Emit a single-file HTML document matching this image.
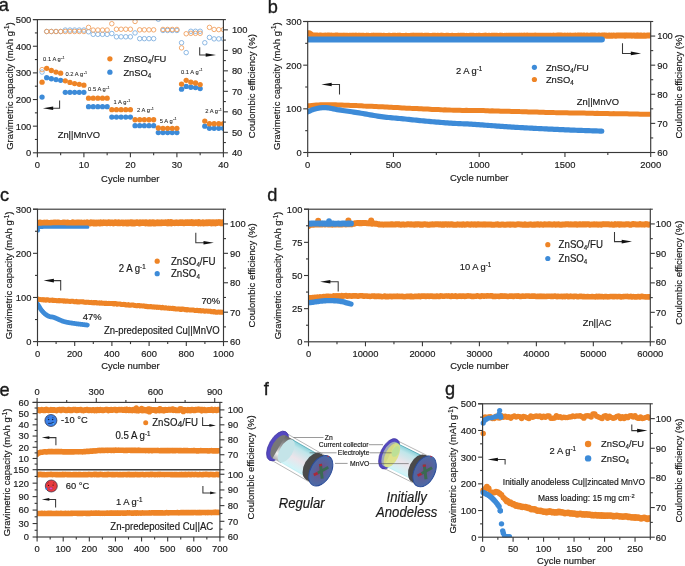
<!DOCTYPE html>
<html><head><meta charset="utf-8"><style>
html,body{margin:0;padding:0;background:#fff;overflow:hidden;}
svg{display:block;will-change:transform;}
text{font-family:"Liberation Sans", sans-serif;stroke:#1a1a1a;stroke-width:0.18px;}
</style></head><body>
<svg width="685" height="566" viewBox="0 0 685 566">
<rect width="685" height="566" fill="#fff"/>
<defs><clipPath id="clipA"><rect x="37.4" y="19.6" width="186.0" height="133.20000000000002"/></clipPath></defs>
<g clip-path="url(#clipA)">
<circle cx="42.05" cy="72.06" r="2.25" fill="none" stroke="#80B0E0" stroke-width="0.9"/>
<circle cx="46.7" cy="31.49" r="2.25" fill="none" stroke="#80B0E0" stroke-width="0.9"/>
<circle cx="51.35" cy="31.49" r="2.25" fill="none" stroke="#80B0E0" stroke-width="0.9"/>
<circle cx="56" cy="31.49" r="2.25" fill="none" stroke="#80B0E0" stroke-width="0.9"/>
<circle cx="60.65" cy="31.49" r="2.25" fill="none" stroke="#80B0E0" stroke-width="0.9"/>
<circle cx="65.3" cy="30.05" r="2.25" fill="none" stroke="#80B0E0" stroke-width="0.9"/>
<circle cx="69.95" cy="30.05" r="2.25" fill="none" stroke="#80B0E0" stroke-width="0.9"/>
<circle cx="74.6" cy="30.05" r="2.25" fill="none" stroke="#80B0E0" stroke-width="0.9"/>
<circle cx="79.25" cy="30.05" r="2.25" fill="none" stroke="#80B0E0" stroke-width="0.9"/>
<circle cx="83.9" cy="30.05" r="2.25" fill="none" stroke="#80B0E0" stroke-width="0.9"/>
<circle cx="88.55" cy="31.79" r="2.25" fill="none" stroke="#80B0E0" stroke-width="0.9"/>
<circle cx="93.2" cy="34.35" r="2.25" fill="none" stroke="#80B0E0" stroke-width="0.9"/>
<circle cx="97.85" cy="34.35" r="2.25" fill="none" stroke="#80B0E0" stroke-width="0.9"/>
<circle cx="102.5" cy="34.35" r="2.25" fill="none" stroke="#80B0E0" stroke-width="0.9"/>
<circle cx="107.15" cy="34.35" r="2.25" fill="none" stroke="#80B0E0" stroke-width="0.9"/>
<circle cx="111.8" cy="33.53" r="2.25" fill="none" stroke="#80B0E0" stroke-width="0.9"/>
<circle cx="116.45" cy="36.81" r="2.25" fill="none" stroke="#80B0E0" stroke-width="0.9"/>
<circle cx="121.1" cy="36.81" r="2.25" fill="none" stroke="#80B0E0" stroke-width="0.9"/>
<circle cx="125.75" cy="36.81" r="2.25" fill="none" stroke="#80B0E0" stroke-width="0.9"/>
<circle cx="130.4" cy="36.81" r="2.25" fill="none" stroke="#80B0E0" stroke-width="0.9"/>
<circle cx="135.05" cy="32.92" r="2.25" fill="none" stroke="#80B0E0" stroke-width="0.9"/>
<circle cx="139.7" cy="38.66" r="2.25" fill="none" stroke="#80B0E0" stroke-width="0.9"/>
<circle cx="144.35" cy="38.66" r="2.25" fill="none" stroke="#80B0E0" stroke-width="0.9"/>
<circle cx="149" cy="38.66" r="2.25" fill="none" stroke="#80B0E0" stroke-width="0.9"/>
<circle cx="153.65" cy="38.66" r="2.25" fill="none" stroke="#80B0E0" stroke-width="0.9"/>
<circle cx="158.3" cy="19.19" r="2.25" fill="none" stroke="#80B0E0" stroke-width="0.9"/>
<circle cx="162.95" cy="30.46" r="2.25" fill="none" stroke="#80B0E0" stroke-width="0.9"/>
<circle cx="167.6" cy="30.46" r="2.25" fill="none" stroke="#80B0E0" stroke-width="0.9"/>
<circle cx="172.25" cy="30.46" r="2.25" fill="none" stroke="#80B0E0" stroke-width="0.9"/>
<circle cx="176.9" cy="30.46" r="2.25" fill="none" stroke="#80B0E0" stroke-width="0.9"/>
<circle cx="181.55" cy="42.76" r="2.25" fill="none" stroke="#80B0E0" stroke-width="0.9"/>
<circle cx="186.2" cy="52.59" r="2.25" fill="none" stroke="#80B0E0" stroke-width="0.9"/>
<circle cx="190.85" cy="31.28" r="2.25" fill="none" stroke="#80B0E0" stroke-width="0.9"/>
<circle cx="195.5" cy="31.28" r="2.25" fill="none" stroke="#80B0E0" stroke-width="0.9"/>
<circle cx="200.15" cy="31.28" r="2.25" fill="none" stroke="#80B0E0" stroke-width="0.9"/>
<circle cx="204.8" cy="42.76" r="2.25" fill="none" stroke="#80B0E0" stroke-width="0.9"/>
<circle cx="209.45" cy="37.43" r="2.25" fill="none" stroke="#80B0E0" stroke-width="0.9"/>
<circle cx="214.1" cy="38.86" r="2.25" fill="none" stroke="#80B0E0" stroke-width="0.9"/>
<circle cx="218.75" cy="38.86" r="2.25" fill="none" stroke="#80B0E0" stroke-width="0.9"/>
<circle cx="223.4" cy="38.86" r="2.25" fill="none" stroke="#80B0E0" stroke-width="0.9"/>
<circle cx="42.05" cy="69.6" r="2.25" fill="none" stroke="#F0A060" stroke-width="0.9"/>
<circle cx="46.7" cy="31.49" r="2.25" fill="none" stroke="#F0A060" stroke-width="0.9"/>
<circle cx="51.35" cy="31.49" r="2.25" fill="none" stroke="#F0A060" stroke-width="0.9"/>
<circle cx="56" cy="31.49" r="2.25" fill="none" stroke="#F0A060" stroke-width="0.9"/>
<circle cx="60.65" cy="31.49" r="2.25" fill="none" stroke="#F0A060" stroke-width="0.9"/>
<circle cx="65.3" cy="31.49" r="2.25" fill="none" stroke="#F0A060" stroke-width="0.9"/>
<circle cx="69.95" cy="31.49" r="2.25" fill="none" stroke="#F0A060" stroke-width="0.9"/>
<circle cx="74.6" cy="31.49" r="2.25" fill="none" stroke="#F0A060" stroke-width="0.9"/>
<circle cx="79.25" cy="31.49" r="2.25" fill="none" stroke="#F0A060" stroke-width="0.9"/>
<circle cx="83.9" cy="31.49" r="2.25" fill="none" stroke="#F0A060" stroke-width="0.9"/>
<circle cx="88.55" cy="27.39" r="2.25" fill="none" stroke="#F0A060" stroke-width="0.9"/>
<circle cx="93.2" cy="30.05" r="2.25" fill="none" stroke="#F0A060" stroke-width="0.9"/>
<circle cx="97.85" cy="30.05" r="2.25" fill="none" stroke="#F0A060" stroke-width="0.9"/>
<circle cx="102.5" cy="30.05" r="2.25" fill="none" stroke="#F0A060" stroke-width="0.9"/>
<circle cx="107.15" cy="30.05" r="2.25" fill="none" stroke="#F0A060" stroke-width="0.9"/>
<circle cx="111.8" cy="23.7" r="2.25" fill="none" stroke="#F0A060" stroke-width="0.9"/>
<circle cx="116.45" cy="29.23" r="2.25" fill="none" stroke="#F0A060" stroke-width="0.9"/>
<circle cx="121.1" cy="29.23" r="2.25" fill="none" stroke="#F0A060" stroke-width="0.9"/>
<circle cx="125.75" cy="29.23" r="2.25" fill="none" stroke="#F0A060" stroke-width="0.9"/>
<circle cx="130.4" cy="29.23" r="2.25" fill="none" stroke="#F0A060" stroke-width="0.9"/>
<circle cx="135.05" cy="21.44" r="2.25" fill="none" stroke="#F0A060" stroke-width="0.9"/>
<circle cx="139.7" cy="29.85" r="2.25" fill="none" stroke="#F0A060" stroke-width="0.9"/>
<circle cx="144.35" cy="29.85" r="2.25" fill="none" stroke="#F0A060" stroke-width="0.9"/>
<circle cx="149" cy="29.85" r="2.25" fill="none" stroke="#F0A060" stroke-width="0.9"/>
<circle cx="153.65" cy="29.85" r="2.25" fill="none" stroke="#F0A060" stroke-width="0.9"/>
<circle cx="162.95" cy="29.44" r="2.25" fill="none" stroke="#F0A060" stroke-width="0.9"/>
<circle cx="167.6" cy="29.44" r="2.25" fill="none" stroke="#F0A060" stroke-width="0.9"/>
<circle cx="172.25" cy="29.44" r="2.25" fill="none" stroke="#F0A060" stroke-width="0.9"/>
<circle cx="176.9" cy="29.44" r="2.25" fill="none" stroke="#F0A060" stroke-width="0.9"/>
<circle cx="181.55" cy="47.88" r="2.25" fill="none" stroke="#F0A060" stroke-width="0.9"/>
<circle cx="186.2" cy="33.74" r="2.25" fill="none" stroke="#F0A060" stroke-width="0.9"/>
<circle cx="190.85" cy="33.33" r="2.25" fill="none" stroke="#F0A060" stroke-width="0.9"/>
<circle cx="195.5" cy="33.33" r="2.25" fill="none" stroke="#F0A060" stroke-width="0.9"/>
<circle cx="200.15" cy="33.33" r="2.25" fill="none" stroke="#F0A060" stroke-width="0.9"/>
<circle cx="209.45" cy="27.39" r="2.25" fill="none" stroke="#F0A060" stroke-width="0.9"/>
<circle cx="214.1" cy="29.44" r="2.25" fill="none" stroke="#F0A060" stroke-width="0.9"/>
<circle cx="218.75" cy="29.64" r="2.25" fill="none" stroke="#F0A060" stroke-width="0.9"/>
<circle cx="223.4" cy="29.64" r="2.25" fill="none" stroke="#F0A060" stroke-width="0.9"/>
<circle cx="42.05" cy="97.12" r="2.65" fill="#3D8BD8"/>
<circle cx="46.7" cy="77.68" r="2.65" fill="#3D8BD8"/>
<circle cx="51.35" cy="78.74" r="2.65" fill="#3D8BD8"/>
<circle cx="56" cy="79.54" r="2.65" fill="#3D8BD8"/>
<circle cx="60.65" cy="80.34" r="2.65" fill="#3D8BD8"/>
<circle cx="65.3" cy="92.33" r="2.65" fill="#3D8BD8"/>
<circle cx="69.95" cy="92.33" r="2.65" fill="#3D8BD8"/>
<circle cx="74.6" cy="92.33" r="2.65" fill="#3D8BD8"/>
<circle cx="79.25" cy="92.33" r="2.65" fill="#3D8BD8"/>
<circle cx="83.9" cy="92.33" r="2.65" fill="#3D8BD8"/>
<circle cx="88.55" cy="106.71" r="2.65" fill="#3D8BD8"/>
<circle cx="93.2" cy="106.71" r="2.65" fill="#3D8BD8"/>
<circle cx="97.85" cy="106.71" r="2.65" fill="#3D8BD8"/>
<circle cx="102.5" cy="106.71" r="2.65" fill="#3D8BD8"/>
<circle cx="107.15" cy="106.71" r="2.65" fill="#3D8BD8"/>
<circle cx="111.8" cy="117.1" r="2.65" fill="#3D8BD8"/>
<circle cx="116.45" cy="117.1" r="2.65" fill="#3D8BD8"/>
<circle cx="121.1" cy="117.1" r="2.65" fill="#3D8BD8"/>
<circle cx="125.75" cy="117.1" r="2.65" fill="#3D8BD8"/>
<circle cx="130.4" cy="117.1" r="2.65" fill="#3D8BD8"/>
<circle cx="135.05" cy="125.63" r="2.65" fill="#3D8BD8"/>
<circle cx="139.7" cy="125.63" r="2.65" fill="#3D8BD8"/>
<circle cx="144.35" cy="125.63" r="2.65" fill="#3D8BD8"/>
<circle cx="149" cy="125.63" r="2.65" fill="#3D8BD8"/>
<circle cx="153.65" cy="125.63" r="2.65" fill="#3D8BD8"/>
<circle cx="158.3" cy="132.55" r="2.65" fill="#3D8BD8"/>
<circle cx="162.95" cy="132.55" r="2.65" fill="#3D8BD8"/>
<circle cx="167.6" cy="132.55" r="2.65" fill="#3D8BD8"/>
<circle cx="172.25" cy="132.55" r="2.65" fill="#3D8BD8"/>
<circle cx="176.9" cy="132.55" r="2.65" fill="#3D8BD8"/>
<circle cx="181.55" cy="89.13" r="2.65" fill="#3D8BD8"/>
<circle cx="186.2" cy="86.47" r="2.65" fill="#3D8BD8"/>
<circle cx="190.85" cy="87.27" r="2.65" fill="#3D8BD8"/>
<circle cx="195.5" cy="87.53" r="2.65" fill="#3D8BD8"/>
<circle cx="200.15" cy="88.6" r="2.65" fill="#3D8BD8"/>
<circle cx="204.8" cy="126.16" r="2.65" fill="#3D8BD8"/>
<circle cx="209.45" cy="128.29" r="2.65" fill="#3D8BD8"/>
<circle cx="214.1" cy="128.29" r="2.65" fill="#3D8BD8"/>
<circle cx="218.75" cy="128.29" r="2.65" fill="#3D8BD8"/>
<circle cx="223.4" cy="128.29" r="2.65" fill="#3D8BD8"/>
<circle cx="42.05" cy="82.2" r="2.65" fill="#EE8426"/>
<circle cx="46.7" cy="68.35" r="2.65" fill="#EE8426"/>
<circle cx="51.35" cy="70.48" r="2.65" fill="#EE8426"/>
<circle cx="56" cy="72.08" r="2.65" fill="#EE8426"/>
<circle cx="60.65" cy="73.15" r="2.65" fill="#EE8426"/>
<circle cx="65.3" cy="80.87" r="2.65" fill="#EE8426"/>
<circle cx="69.95" cy="82.47" r="2.65" fill="#EE8426"/>
<circle cx="74.6" cy="83.54" r="2.65" fill="#EE8426"/>
<circle cx="79.25" cy="84.34" r="2.65" fill="#EE8426"/>
<circle cx="83.9" cy="85.13" r="2.65" fill="#EE8426"/>
<circle cx="88.55" cy="98.19" r="2.65" fill="#EE8426"/>
<circle cx="93.2" cy="98.19" r="2.65" fill="#EE8426"/>
<circle cx="97.85" cy="98.19" r="2.65" fill="#EE8426"/>
<circle cx="102.5" cy="98.19" r="2.65" fill="#EE8426"/>
<circle cx="107.15" cy="98.19" r="2.65" fill="#EE8426"/>
<circle cx="111.8" cy="109.64" r="2.65" fill="#EE8426"/>
<circle cx="116.45" cy="109.64" r="2.65" fill="#EE8426"/>
<circle cx="121.1" cy="109.64" r="2.65" fill="#EE8426"/>
<circle cx="125.75" cy="109.64" r="2.65" fill="#EE8426"/>
<circle cx="130.4" cy="109.64" r="2.65" fill="#EE8426"/>
<circle cx="135.05" cy="119.77" r="2.65" fill="#EE8426"/>
<circle cx="139.7" cy="119.77" r="2.65" fill="#EE8426"/>
<circle cx="144.35" cy="119.77" r="2.65" fill="#EE8426"/>
<circle cx="149" cy="119.77" r="2.65" fill="#EE8426"/>
<circle cx="153.65" cy="119.77" r="2.65" fill="#EE8426"/>
<circle cx="158.3" cy="128.02" r="2.65" fill="#EE8426"/>
<circle cx="162.95" cy="128.29" r="2.65" fill="#EE8426"/>
<circle cx="167.6" cy="128.29" r="2.65" fill="#EE8426"/>
<circle cx="172.25" cy="128.29" r="2.65" fill="#EE8426"/>
<circle cx="176.9" cy="128.29" r="2.65" fill="#EE8426"/>
<circle cx="181.55" cy="84.07" r="2.65" fill="#EE8426"/>
<circle cx="186.2" cy="80.34" r="2.65" fill="#EE8426"/>
<circle cx="190.85" cy="82.2" r="2.65" fill="#EE8426"/>
<circle cx="195.5" cy="83" r="2.65" fill="#EE8426"/>
<circle cx="200.15" cy="84.6" r="2.65" fill="#EE8426"/>
<circle cx="204.8" cy="121.1" r="2.65" fill="#EE8426"/>
<circle cx="209.45" cy="123.76" r="2.65" fill="#EE8426"/>
<circle cx="214.1" cy="123.76" r="2.65" fill="#EE8426"/>
<circle cx="218.75" cy="123.76" r="2.65" fill="#EE8426"/>
<circle cx="223.4" cy="123.76" r="2.65" fill="#EE8426"/>
</g>
<rect x="37.4" y="19.6" width="186" height="133.2" fill="none" stroke="#383838" stroke-width="1.15"/>
<line x1="32.9" y1="19.6" x2="37.4" y2="19.6" stroke="#383838" stroke-width="1.1"/>
<line x1="37.4" y1="152.8" x2="37.4" y2="157.3" stroke="#383838" stroke-width="1.1"/>
<text transform="translate(37.4,167.8) scale(0.95,1)" font-size="9.87" text-anchor="middle" fill="#1a1a1a" >0</text>
<line x1="83.9" y1="152.8" x2="83.9" y2="157.3" stroke="#383838" stroke-width="1.1"/>
<text transform="translate(83.9,167.8) scale(0.95,1)" font-size="9.87" text-anchor="middle" fill="#1a1a1a" >10</text>
<line x1="130.4" y1="152.8" x2="130.4" y2="157.3" stroke="#383838" stroke-width="1.1"/>
<text transform="translate(130.4,167.8) scale(0.95,1)" font-size="9.87" text-anchor="middle" fill="#1a1a1a" >20</text>
<line x1="176.9" y1="152.8" x2="176.9" y2="157.3" stroke="#383838" stroke-width="1.1"/>
<text transform="translate(176.9,167.8) scale(0.95,1)" font-size="9.87" text-anchor="middle" fill="#1a1a1a" >30</text>
<line x1="223.4" y1="152.8" x2="223.4" y2="157.3" stroke="#383838" stroke-width="1.1"/>
<text transform="translate(223.4,167.8) scale(0.95,1)" font-size="9.87" text-anchor="middle" fill="#1a1a1a" >40</text>
<line x1="60.65" y1="152.8" x2="60.65" y2="155.3" stroke="#383838" stroke-width="1.1"/>
<line x1="107.15" y1="152.8" x2="107.15" y2="155.3" stroke="#383838" stroke-width="1.1"/>
<line x1="153.65" y1="152.8" x2="153.65" y2="155.3" stroke="#383838" stroke-width="1.1"/>
<line x1="200.15" y1="152.8" x2="200.15" y2="155.3" stroke="#383838" stroke-width="1.1"/>
<line x1="32.9" y1="152.8" x2="37.4" y2="152.8" stroke="#383838" stroke-width="1.1"/>
<text transform="translate(31.3,156.15) scale(0.95,1)" font-size="9.87" text-anchor="end" fill="#1a1a1a" >0</text>
<line x1="32.9" y1="126.16" x2="37.4" y2="126.16" stroke="#383838" stroke-width="1.1"/>
<text transform="translate(31.3,129.51) scale(0.95,1)" font-size="9.87" text-anchor="end" fill="#1a1a1a" >100</text>
<line x1="32.9" y1="99.52" x2="37.4" y2="99.52" stroke="#383838" stroke-width="1.1"/>
<text transform="translate(31.3,102.87) scale(0.95,1)" font-size="9.87" text-anchor="end" fill="#1a1a1a" >200</text>
<line x1="32.9" y1="72.88" x2="37.4" y2="72.88" stroke="#383838" stroke-width="1.1"/>
<text transform="translate(31.3,76.23) scale(0.95,1)" font-size="9.87" text-anchor="end" fill="#1a1a1a" >300</text>
<line x1="32.9" y1="46.24" x2="37.4" y2="46.24" stroke="#383838" stroke-width="1.1"/>
<text transform="translate(31.3,49.59) scale(0.95,1)" font-size="9.87" text-anchor="end" fill="#1a1a1a" >400</text>
<line x1="32.9" y1="19.6" x2="37.4" y2="19.6" stroke="#383838" stroke-width="1.1"/>
<text transform="translate(31.3,22.95) scale(0.95,1)" font-size="9.87" text-anchor="end" fill="#1a1a1a" >500</text>
<line x1="34.9" y1="139.48" x2="37.4" y2="139.48" stroke="#383838" stroke-width="1.1"/>
<line x1="34.9" y1="112.84" x2="37.4" y2="112.84" stroke="#383838" stroke-width="1.1"/>
<line x1="34.9" y1="86.2" x2="37.4" y2="86.2" stroke="#383838" stroke-width="1.1"/>
<line x1="34.9" y1="59.56" x2="37.4" y2="59.56" stroke="#383838" stroke-width="1.1"/>
<line x1="34.9" y1="32.92" x2="37.4" y2="32.92" stroke="#383838" stroke-width="1.1"/>
<line x1="223.4" y1="152.8" x2="227.9" y2="152.8" stroke="#383838" stroke-width="1.1"/>
<text transform="translate(231.9,156.15) scale(0.95,1)" font-size="9.87" text-anchor="start" fill="#1a1a1a" >40</text>
<line x1="223.4" y1="132.31" x2="227.9" y2="132.31" stroke="#383838" stroke-width="1.1"/>
<text transform="translate(231.9,135.66) scale(0.95,1)" font-size="9.87" text-anchor="start" fill="#1a1a1a" >50</text>
<line x1="223.4" y1="111.82" x2="227.9" y2="111.82" stroke="#383838" stroke-width="1.1"/>
<text transform="translate(231.9,115.17) scale(0.95,1)" font-size="9.87" text-anchor="start" fill="#1a1a1a" >60</text>
<line x1="223.4" y1="91.32" x2="227.9" y2="91.32" stroke="#383838" stroke-width="1.1"/>
<text transform="translate(231.9,94.67) scale(0.95,1)" font-size="9.87" text-anchor="start" fill="#1a1a1a" >70</text>
<line x1="223.4" y1="70.83" x2="227.9" y2="70.83" stroke="#383838" stroke-width="1.1"/>
<text transform="translate(231.9,74.18) scale(0.95,1)" font-size="9.87" text-anchor="start" fill="#1a1a1a" >80</text>
<line x1="223.4" y1="50.34" x2="227.9" y2="50.34" stroke="#383838" stroke-width="1.1"/>
<text transform="translate(231.9,53.69) scale(0.95,1)" font-size="9.87" text-anchor="start" fill="#1a1a1a" >90</text>
<line x1="223.4" y1="29.85" x2="227.9" y2="29.85" stroke="#383838" stroke-width="1.1"/>
<text transform="translate(231.9,33.2) scale(0.95,1)" font-size="9.87" text-anchor="start" fill="#1a1a1a" >100</text>
<line x1="223.4" y1="142.55" x2="225.9" y2="142.55" stroke="#383838" stroke-width="1.1"/>
<line x1="223.4" y1="122.06" x2="225.9" y2="122.06" stroke="#383838" stroke-width="1.1"/>
<line x1="223.4" y1="101.57" x2="225.9" y2="101.57" stroke="#383838" stroke-width="1.1"/>
<line x1="223.4" y1="81.08" x2="225.9" y2="81.08" stroke="#383838" stroke-width="1.1"/>
<line x1="223.4" y1="60.58" x2="225.9" y2="60.58" stroke="#383838" stroke-width="1.1"/>
<line x1="223.4" y1="40.09" x2="225.9" y2="40.09" stroke="#383838" stroke-width="1.1"/>
<line x1="223.4" y1="19.6" x2="225.9" y2="19.6" stroke="#383838" stroke-width="1.1"/>
<text transform="translate(12.5,86.1) rotate(-90) scale(0.95,1)" font-size="9.97" text-anchor="middle" fill="#1a1a1a">Gravimetric capacity (mAh g<tspan font-size="6.5" dy="-3.2">-1</tspan><tspan dy="3.2">)</tspan></text>
<text transform="translate(255.2,86.2) rotate(-90) scale(0.95,1)" font-size="9.97" text-anchor="middle" fill="#1a1a1a">Coulombic efficiency (%)</text>
<text transform="translate(130.3,181.8) scale(0.95,1)" font-size="9.97" text-anchor="middle" fill="#1a1a1a" >Cycle number</text>
<circle cx="109.9" cy="58.8" r="2.65" fill="#EE8426"/>
<circle cx="109.9" cy="72.2" r="2.65" fill="#3D8BD8"/>
<text transform="translate(123.4,62.2) scale(0.95,1)" font-size="9.87" text-anchor="start" fill="#1a1a1a" >ZnSO<tspan font-size="6.5" dy="2">4</tspan><tspan dy="-2">/FU</tspan></text>
<text transform="translate(123.4,75.6) scale(0.95,1)" font-size="9.87" text-anchor="start" fill="#1a1a1a" >ZnSO<tspan font-size="6.5" dy="2">4</tspan><tspan dy="-2"></tspan></text>
<text transform="translate(57.7,137.8) scale(0.95,1)" font-size="9.87" text-anchor="start" fill="#1a1a1a" >Zn||MnVO</text>
<text x="43.1" y="61.1" font-size="5.8" fill="#1a1a1a" style="stroke-width:0.06px">0.1 A g<tspan font-size="3.8" dx="0.5" dy="-2.3">-1</tspan></text>
<text x="65.5" y="76.4" font-size="5.8" fill="#1a1a1a" style="stroke-width:0.06px">0.2 A g<tspan font-size="3.8" dx="0.5" dy="-2.3">-1</tspan></text>
<text x="88.1" y="91" font-size="5.8" fill="#1a1a1a" style="stroke-width:0.06px">0.5 A g<tspan font-size="3.8" dx="0.5" dy="-2.3">-1</tspan></text>
<text x="113.5" y="104.3" font-size="5.8" fill="#1a1a1a" style="stroke-width:0.06px">1 A g<tspan font-size="3.8" dx="0.5" dy="-2.3">-1</tspan></text>
<text x="137" y="112.2" font-size="5.8" fill="#1a1a1a" style="stroke-width:0.06px">2 A g<tspan font-size="3.8" dx="0.5" dy="-2.3">-1</tspan></text>
<text x="159.8" y="122.5" font-size="5.8" fill="#1a1a1a" style="stroke-width:0.06px">5 A g<tspan font-size="3.8" dx="0.5" dy="-2.3">-1</tspan></text>
<text x="181" y="73.5" font-size="5.8" fill="#1a1a1a" style="stroke-width:0.06px">0.1 A g<tspan font-size="3.8" dx="0.5" dy="-2.3">-1</tspan></text>
<text x="205.2" y="113.4" font-size="5.8" fill="#1a1a1a" style="stroke-width:0.06px">2 A g<tspan font-size="3.8" dx="0.5" dy="-2.3">-1</tspan></text>
<polyline points="52.2,108.2 59.6,108.2 59.6,100.6" fill="none" stroke="#383838" stroke-width="1.05"/>
<polygon points="42.9,108.2 53.2,106.4 53.2,110" fill="#111"/>
<polyline points="199.7,47.3 199.7,55 206.7,55" fill="none" stroke="#383838" stroke-width="1.05"/>
<polygon points="216,55 205.7,53.2 205.7,56.8" fill="#111"/>
<text transform="translate(-1.2,11.4) scale(1,1)" font-size="18.2" text-anchor="start" fill="#1a1a1a" style="stroke-width:0.35px">a</text>
<defs><clipPath id="clipB"><rect x="307.7" y="21.5" width="343.00000000000006" height="131.0"/></clipPath></defs>
<g clip-path="url(#clipB)">
<polyline points="307.7,33.37 308.56,33.19 309.41,33.38 310.27,33.71 311.13,34.99 311.99,35.54 312.84,35.42 313.7,35.6 314.56,35.42 315.42,35.58 316.27,35.44 317.13,35.46 317.99,35.6 318.85,35.76 319.7,35.49 320.56,35.53 321.42,35.7 322.28,35.83 323.13,35.69 323.99,35.62 324.85,35.86 325.71,35.49 326.56,35.82 327.42,35.59 328.28,35.54 329.14,35.53 330,35.62 330.85,35.82 331.71,35.57 332.57,35.74 333.43,35.76 334.28,35.66 335.14,35.74 336,35.55 336.86,35.55 337.71,35.61 338.57,35.8 339.43,35.71 340.28,35.67 341.14,35.78 342,35.73 342.86,35.67 343.71,35.87 344.57,35.84 345.43,35.66 346.29,35.79 347.14,35.78 348,35.92 348.86,35.87 349.72,35.69 350.57,35.97 351.43,35.63 352.29,35.75 353.15,35.89 354,35.65 354.86,35.79 355.72,35.62 356.58,35.87 357.44,35.91 358.29,35.84 359.15,35.96 360.01,35.74 360.87,35.89 361.72,35.86 362.58,35.85 363.44,35.81 364.3,35.96 365.15,36.01 366.01,35.82 366.87,35.9 367.73,35.66 368.58,35.92 369.44,35.9 370.3,36.04 371.15,35.97 372.01,35.76 372.87,35.8 373.73,35.92 374.59,35.66 375.44,35.84 376.3,35.72 377.16,35.71 378.01,35.68 378.87,35.97 379.73,35.72 380.59,35.76 381.44,35.82 382.3,36.02 383.16,35.7 384.02,35.85 384.88,35.89 385.73,36.03 386.59,36 387.45,36.02 388.31,35.79 389.16,35.85 390.02,35.83 390.88,36.04 391.74,36.07 392.59,35.75 393.45,35.76 394.31,35.78 395.17,35.78 396.02,35.88 396.88,35.93 397.74,35.8 398.6,35.69 399.45,35.86 400.31,35.84 401.17,35.92 402.02,36.08 402.88,35.97 403.74,35.9 404.6,35.95 405.45,35.97 406.31,35.72 407.17,36.06 408.03,36.01 408.88,36.05 409.74,36.02 410.6,35.86 411.46,35.86 412.31,35.75 413.17,35.96 414.03,35.73 414.89,35.73 415.75,35.79 416.6,35.77 417.46,35.84 418.32,35.73 419.18,35.71 420.03,35.77 420.89,35.75 421.75,35.85 422.61,35.72 423.46,36.06 424.32,35.95 425.18,35.77 426.03,35.81 426.89,35.85 427.75,35.85 428.61,35.76 429.47,36.05 430.32,36.1 431.18,35.89 432.04,35.9 432.89,35.74 433.75,35.75 434.61,35.84 435.47,35.81 436.33,36.04 437.18,35.77 438.04,35.71 438.9,36.08 439.75,35.91 440.61,35.76 441.47,35.92 442.33,35.71 443.19,35.91 444.04,36.09 444.9,36.05 445.76,35.98 446.62,35.8 447.47,35.84 448.33,35.76 449.19,36.01 450.05,35.91 450.9,36.01 451.76,35.83 452.62,35.78 453.48,36.02 454.33,36.09 455.19,36.03 456.05,36.01 456.9,36.02 457.76,35.98 458.62,35.78 459.48,35.89 460.34,35.83 461.19,35.7 462.05,35.7 462.91,35.79 463.76,35.79 464.62,35.96 465.48,36.06 466.34,35.86 467.2,36.05 468.05,36.07 468.91,36.06 469.77,35.82 470.62,35.76 471.48,35.76 472.34,35.75 473.2,35.75 474.06,35.92 474.91,36.03 475.77,36 476.63,35.86 477.49,35.92 478.34,35.98 479.2,35.69 480.06,35.92 480.92,36.02 481.77,35.97 482.63,35.96 483.49,35.85 484.35,35.72 485.2,35.97 486.06,35.78 486.92,35.97 487.78,36.04 488.63,35.8 489.49,35.8 490.35,36.02 491.21,35.93 492.06,35.71 492.92,35.69 493.78,35.7 494.63,36 495.49,35.96 496.35,35.69 497.21,35.96 498.07,36.02 498.92,35.89 499.78,35.77 500.64,35.84 501.5,35.67 502.35,35.63 503.21,36.01 504.07,35.88 504.93,35.83 505.78,35.99 506.64,35.79 507.5,35.96 508.36,35.94 509.21,35.69 510.07,35.71 510.93,35.72 511.79,35.7 512.64,35.83 513.5,35.7 514.36,35.76 515.22,35.65 516.07,35.96 516.93,35.73 517.79,35.77 518.64,35.82 519.5,35.95 520.36,35.75 521.22,35.95 522.08,35.78 522.93,35.79 523.79,35.79 524.65,35.58 525.5,35.75 526.36,35.65 527.22,35.57 528.08,35.89 528.94,35.64 529.79,35.75 530.65,35.85 531.51,35.78 532.37,35.69 533.22,35.77 534.08,35.78 534.94,35.87 535.8,35.59 536.65,35.77 537.51,35.65 538.37,35.66 539.23,35.85 540.08,35.75 540.94,35.77 541.8,35.84 542.66,35.9 543.51,35.71 544.37,35.78 545.23,35.73 546.09,35.74 546.94,35.81 547.8,35.71 548.66,35.74 549.51,35.71 550.37,35.9 551.23,35.8 552.09,35.87 552.95,35.89 553.8,35.62 554.66,35.74 555.52,35.89 556.38,35.85 557.23,35.56 558.09,35.55 558.95,35.68 559.81,35.53 560.66,35.6 561.52,35.53 562.38,35.77 563.24,35.81 564.09,35.85 564.95,35.55 565.81,35.78 566.66,35.75 567.52,35.54 568.38,35.84 569.24,35.87 570.1,35.57 570.95,35.86 571.81,35.64 572.67,35.67 573.53,35.87 574.38,35.81 575.24,35.54 576.1,35.64 576.96,35.68 577.81,35.6 578.67,35.54 579.53,35.59 580.38,35.75 581.24,35.47 582.1,35.68 582.96,35.63 583.82,35.46 584.67,35.59 585.53,35.7 586.39,35.66 587.25,35.48 588.1,35.84 588.96,35.76 589.82,35.84 590.67,35.49 591.53,35.55 592.39,35.46 593.25,35.75 594.11,35.55 594.96,35.49 595.82,35.61 596.68,35.8 597.54,35.76 598.39,35.54 599.25,35.49 600.11,35.8 600.97,35.66 601.82,35.71 602.68,35.46 603.54,35.45 604.39,35.7 605.25,35.59 606.11,35.45 606.97,35.8 607.83,35.67 608.68,35.74 609.54,35.45 610.4,35.76 611.26,35.44 612.11,35.76 612.97,35.59 613.83,35.55 614.69,35.63 615.54,35.78 616.4,35.52 617.26,35.46 618.12,35.62 618.97,35.5 619.83,35.45 620.69,35.47 621.55,35.42 622.4,35.48 623.26,35.53 624.12,35.52 624.98,35.7 625.83,35.52 626.69,35.6 627.55,35.47 628.41,35.54 629.26,35.41 630.12,35.5 630.98,35.4 631.84,35.69 632.69,35.62 633.55,35.47 634.41,35.58 635.27,35.77 636.12,35.44 636.98,35.72 637.84,35.57 638.7,35.59 639.55,35.73 640.41,35.55 641.27,35.59 642.12,35.67 642.98,35.78 643.84,35.53 644.7,35.72 645.56,35.67 646.41,35.64 647.27,35.55 648.13,35.53 648.99,35.41 649.84,35.44 650.7,35.42" fill="none" stroke="#EE8426" stroke-width="6.0" stroke-linecap="round" stroke-linejoin="round" />
<polyline points="307.7,39.43 312.6,39.43 317.5,39.43 322.41,39.43 327.31,39.43 332.21,39.43 337.11,39.43 342.01,39.43 346.92,39.43 351.82,39.43 356.72,39.43 361.62,39.43 366.52,39.43 371.43,39.43 376.33,39.43 381.23,39.43 386.13,39.43 391.03,39.43 395.94,39.43 400.84,39.43 405.74,39.43 410.64,39.43 415.54,39.43 420.45,39.43 425.35,39.43 430.25,39.43 435.15,39.43 440.06,39.43 444.96,39.43 449.86,39.43 454.76,39.43 459.66,39.43 464.57,39.43 469.47,39.43 474.37,39.43 479.27,39.43 484.17,39.43 489.08,39.43 493.98,39.43 498.88,39.43 503.78,39.43 508.68,39.43 513.59,39.43 518.49,39.43 523.39,39.43 528.29,39.43 533.19,39.43 538.1,39.43 543,39.43 547.9,39.43 552.8,39.43 557.7,39.43 562.61,39.43 567.51,39.43 572.41,39.43 577.31,39.43 582.21,39.43 587.12,39.43 592.02,39.43 596.92,39.43 601.82,39.43" fill="none" stroke="#3D8BD8" stroke-width="6.1" stroke-linecap="round" stroke-linejoin="round" />
<polyline points="307.7,105.81 309.84,105.66 311.99,105.39 314.13,105.17 316.27,105.01 318.42,104.9 320.56,104.72 322.71,104.78 324.85,104.7 326.99,104.72 329.14,104.74 331.28,104.78 333.43,104.79 335.57,104.74 337.71,104.96 339.86,105.02 342,105.04 344.14,105.13 346.29,105.24 348.43,105.21 350.57,105.43 352.72,105.43 354.86,105.49 357.01,105.62 359.15,105.8 361.29,105.79 363.44,105.99 365.58,106.13 367.73,106.13 369.87,106.22 372.01,106.34 374.16,106.49 376.3,106.61 378.44,106.69 380.59,106.81 382.73,106.81 384.88,106.94 387.02,107.07 389.16,107.28 391.31,107.31 393.45,107.47 395.59,107.47 397.74,107.59 399.88,107.74 402.02,107.92 404.17,108.03 406.31,108.13 408.46,108.15 410.6,108.3 412.74,108.4 414.89,108.5 417.03,108.54 419.18,108.8 421.32,108.76 423.46,109.02 425.61,109.12 427.75,109.04 429.89,109.23 432.04,109.4 434.18,109.52 436.33,109.52 438.47,109.57 440.61,109.65 442.76,109.89 444.9,109.83 447.04,109.99 449.19,109.98 451.33,110.13 453.48,110.29 455.62,110.18 457.76,110.36 459.91,110.34 462.05,110.44 464.19,110.43 466.34,110.36 468.48,110.51 470.62,110.45 472.77,110.38 474.91,110.4 477.06,110.53 479.2,110.57 481.34,110.59 483.49,110.61 485.63,110.7 487.78,110.75 489.92,110.91 492.06,110.79 494.21,111 496.35,111.07 498.49,110.98 500.64,111.2 502.78,111.21 504.93,111.31 507.07,111.24 509.21,111.32 511.36,111.38 513.5,111.56 515.64,111.53 517.79,111.54 519.93,111.62 522.08,111.64 524.22,111.66 526.36,111.72 528.51,111.93 530.65,111.88 532.79,112.06 534.94,111.98 537.08,112.04 539.23,112.15 541.37,112.14 543.51,112.23 545.66,112.4 547.8,112.44 549.94,112.48 552.09,112.49 554.23,112.6 556.38,112.66 558.52,112.63 560.66,112.71 562.81,112.63 564.95,112.81 567.09,112.8 569.24,112.91 571.38,112.93 573.53,112.9 575.67,112.9 577.81,113.11 579.96,113 582.1,113.11 584.24,113.12 586.39,113.15 588.53,113.28 590.67,113.37 592.82,113.26 594.96,113.38 597.11,113.34 599.25,113.43 601.39,113.44 603.54,113.43 605.68,113.46 607.83,113.51 609.97,113.69 612.11,113.64 614.26,113.62 616.4,113.79 618.54,113.85 620.69,113.77 622.83,113.75 624.98,113.79 627.12,113.81 629.26,113.89 631.41,113.88 633.55,113.94 635.69,113.98 637.84,114.08 639.98,114.18 642.12,114.19 644.27,114.16 646.41,114.2 648.56,114.26 650.7,114.27" fill="none" stroke="#EE8426" stroke-width="5.0" stroke-linecap="round" stroke-linejoin="round" />
<polyline points="307.7,111.89 309.54,111.05 311.38,110.18 313.21,109.46 315.05,108.97 316.89,108.52 318.73,108.13 320.57,107.81 322.41,107.6 324.24,107.52 326.08,107.59 327.92,107.8 329.76,108.11 331.6,108.47 333.44,108.87 335.27,109.26 337.11,109.61 338.95,109.9 340.79,110.18 342.63,110.45 344.47,110.72 346.3,110.99 348.14,111.26 349.98,111.52 351.82,111.79 353.66,112.06 355.49,112.34 357.33,112.62 359.17,112.9 361.01,113.2 362.85,113.51 364.69,113.83 366.52,114.16 368.36,114.49 370.2,114.83 372.04,115.16 373.88,115.48 375.72,115.79 377.55,116.09 379.39,116.38 381.23,116.64 383.07,116.88 384.91,117.1 386.75,117.31 388.58,117.5 390.42,117.68 392.26,117.85 394.1,118.01 395.94,118.18 397.78,118.34 399.61,118.5 401.45,118.67 403.29,118.85 405.13,119.03 406.97,119.22 408.8,119.41 410.64,119.6 412.48,119.79 414.32,119.98 416.16,120.17 418,120.35 419.83,120.54 421.67,120.72 423.51,120.89 425.35,121.06 427.19,121.23 429.03,121.39 430.86,121.56 432.7,121.72 434.54,121.88 436.38,122.04 438.22,122.2 440.06,122.35 441.89,122.5 443.73,122.65 445.57,122.79 447.41,122.93 449.25,123.07 451.08,123.2 452.92,123.32 454.76,123.42 456.6,123.51 458.44,123.59 460.28,123.67 462.11,123.74 463.95,123.81 465.79,123.89 467.63,123.97 469.47,124.08 471.31,124.19 473.14,124.31 474.98,124.44 476.82,124.57 478.66,124.7 480.5,124.83 482.34,124.96 484.17,125.1 486.01,125.23 487.85,125.37 489.69,125.51 491.53,125.64 493.36,125.78 495.2,125.92 497.04,126.05 498.88,126.19 500.72,126.32 502.56,126.45 504.39,126.58 506.23,126.71 508.07,126.83 509.91,126.95 511.75,127.07 513.59,127.18 515.42,127.29 517.26,127.4 519.1,127.5 520.94,127.61 522.78,127.71 524.62,127.81 526.45,127.91 528.29,128.01 530.13,128.11 531.97,128.21 533.81,128.31 535.64,128.4 537.48,128.49 539.32,128.59 541.16,128.68 543,128.77 544.84,128.86 546.67,128.95 548.51,129.04 550.35,129.12 552.19,129.21 554.03,129.3 555.87,129.38 557.7,129.47 559.54,129.55 561.38,129.63 563.22,129.72 565.06,129.8 566.9,129.88 568.73,129.96 570.57,130.03 572.41,130.1 574.25,130.17 576.09,130.24 577.93,130.3 579.76,130.37 581.6,130.43 583.44,130.49 585.28,130.55 587.12,130.61 588.95,130.67 590.79,130.73 592.63,130.79 594.47,130.85 596.31,130.91 598.15,130.98 599.98,131.04 601.82,131.1" fill="none" stroke="#3D8BD8" stroke-width="5.2" stroke-linecap="round" stroke-linejoin="round" />
</g>
<rect x="307.7" y="21.5" width="343" height="131" fill="none" stroke="#383838" stroke-width="1.15"/>
<line x1="303.2" y1="21.5" x2="307.7" y2="21.5" stroke="#383838" stroke-width="1.1"/>
<line x1="307.7" y1="152.5" x2="307.7" y2="157" stroke="#383838" stroke-width="1.1"/>
<text transform="translate(307.7,167.5) scale(0.95,1)" font-size="9.87" text-anchor="middle" fill="#1a1a1a" >0</text>
<line x1="393.45" y1="152.5" x2="393.45" y2="157" stroke="#383838" stroke-width="1.1"/>
<text transform="translate(393.45,167.5) scale(0.95,1)" font-size="9.87" text-anchor="middle" fill="#1a1a1a" >500</text>
<line x1="479.2" y1="152.5" x2="479.2" y2="157" stroke="#383838" stroke-width="1.1"/>
<text transform="translate(479.2,167.5) scale(0.95,1)" font-size="9.87" text-anchor="middle" fill="#1a1a1a" >1000</text>
<line x1="564.95" y1="152.5" x2="564.95" y2="157" stroke="#383838" stroke-width="1.1"/>
<text transform="translate(564.95,167.5) scale(0.95,1)" font-size="9.87" text-anchor="middle" fill="#1a1a1a" >1500</text>
<line x1="650.7" y1="152.5" x2="650.7" y2="157" stroke="#383838" stroke-width="1.1"/>
<text transform="translate(650.7,167.5) scale(0.95,1)" font-size="9.87" text-anchor="middle" fill="#1a1a1a" >2000</text>
<line x1="350.57" y1="152.5" x2="350.57" y2="155" stroke="#383838" stroke-width="1.1"/>
<line x1="436.33" y1="152.5" x2="436.33" y2="155" stroke="#383838" stroke-width="1.1"/>
<line x1="522.08" y1="152.5" x2="522.08" y2="155" stroke="#383838" stroke-width="1.1"/>
<line x1="607.83" y1="152.5" x2="607.83" y2="155" stroke="#383838" stroke-width="1.1"/>
<line x1="303.2" y1="152.5" x2="307.7" y2="152.5" stroke="#383838" stroke-width="1.1"/>
<text transform="translate(301.6,155.85) scale(0.95,1)" font-size="9.87" text-anchor="end" fill="#1a1a1a" >0</text>
<line x1="303.2" y1="108.83" x2="307.7" y2="108.83" stroke="#383838" stroke-width="1.1"/>
<text transform="translate(301.6,112.18) scale(0.95,1)" font-size="9.87" text-anchor="end" fill="#1a1a1a" >100</text>
<line x1="303.2" y1="65.17" x2="307.7" y2="65.17" stroke="#383838" stroke-width="1.1"/>
<text transform="translate(301.6,68.52) scale(0.95,1)" font-size="9.87" text-anchor="end" fill="#1a1a1a" >200</text>
<line x1="303.2" y1="21.5" x2="307.7" y2="21.5" stroke="#383838" stroke-width="1.1"/>
<text transform="translate(301.6,24.85) scale(0.95,1)" font-size="9.87" text-anchor="end" fill="#1a1a1a" >300</text>
<line x1="305.2" y1="130.67" x2="307.7" y2="130.67" stroke="#383838" stroke-width="1.1"/>
<line x1="305.2" y1="87" x2="307.7" y2="87" stroke="#383838" stroke-width="1.1"/>
<line x1="305.2" y1="43.33" x2="307.7" y2="43.33" stroke="#383838" stroke-width="1.1"/>
<line x1="650.7" y1="152.5" x2="655.2" y2="152.5" stroke="#383838" stroke-width="1.1"/>
<text transform="translate(657.2,155.85) scale(0.95,1)" font-size="9.87" text-anchor="start" fill="#1a1a1a" >60</text>
<line x1="650.7" y1="123.39" x2="655.2" y2="123.39" stroke="#383838" stroke-width="1.1"/>
<text transform="translate(657.2,126.74) scale(0.95,1)" font-size="9.87" text-anchor="start" fill="#1a1a1a" >70</text>
<line x1="650.7" y1="94.28" x2="655.2" y2="94.28" stroke="#383838" stroke-width="1.1"/>
<text transform="translate(657.2,97.63) scale(0.95,1)" font-size="9.87" text-anchor="start" fill="#1a1a1a" >80</text>
<line x1="650.7" y1="65.17" x2="655.2" y2="65.17" stroke="#383838" stroke-width="1.1"/>
<text transform="translate(657.2,68.52) scale(0.95,1)" font-size="9.87" text-anchor="start" fill="#1a1a1a" >90</text>
<line x1="650.7" y1="36.06" x2="655.2" y2="36.06" stroke="#383838" stroke-width="1.1"/>
<text transform="translate(657.2,39.41) scale(0.95,1)" font-size="9.87" text-anchor="start" fill="#1a1a1a" >100</text>
<line x1="650.7" y1="137.94" x2="653.2" y2="137.94" stroke="#383838" stroke-width="1.1"/>
<line x1="650.7" y1="108.83" x2="653.2" y2="108.83" stroke="#383838" stroke-width="1.1"/>
<line x1="650.7" y1="79.72" x2="653.2" y2="79.72" stroke="#383838" stroke-width="1.1"/>
<line x1="650.7" y1="50.61" x2="653.2" y2="50.61" stroke="#383838" stroke-width="1.1"/>
<line x1="650.7" y1="21.5" x2="653.2" y2="21.5" stroke="#383838" stroke-width="1.1"/>
<text transform="translate(279.6,86.2) rotate(-90) scale(0.95,1)" font-size="9.97" text-anchor="middle" fill="#1a1a1a">Gravimetric capacity (mAh g<tspan font-size="6.5" dy="-3.2">-1</tspan><tspan dy="3.2">)</tspan></text>
<text transform="translate(682.2,86.5) rotate(-90) scale(0.95,1)" font-size="9.97" text-anchor="middle" fill="#1a1a1a">Coulombic efficiency (%)</text>
<text transform="translate(479.2,181) scale(0.95,1)" font-size="9.97" text-anchor="middle" fill="#1a1a1a" >Cycle number</text>
<circle cx="534.4" cy="67.3" r="2.6" fill="#3D8BD8"/>
<circle cx="534.4" cy="79.5" r="2.6" fill="#EE8426"/>
<text transform="translate(545.9,70.7) scale(0.95,1)" font-size="9.87" text-anchor="start" fill="#1a1a1a" >ZnSO<tspan font-size="6.5" dy="2">4</tspan><tspan dy="-2">/FU</tspan></text>
<text transform="translate(545.9,82.9) scale(0.95,1)" font-size="9.87" text-anchor="start" fill="#1a1a1a" >ZnSO<tspan font-size="6.5" dy="2">4</tspan><tspan dy="-2"></tspan></text>
<text transform="translate(455.9,74.3) scale(0.95,1)" font-size="9.87" text-anchor="start" fill="#1a1a1a" >2 A g<tspan font-size="6.5" dy="-3.2">-1</tspan><tspan dy="3.2"></tspan></text>
<text transform="translate(576.8,104.7) scale(0.95,1)" font-size="9.87" text-anchor="start" fill="#1a1a1a" >Zn||MnVO</text>
<polyline points="330.7,84.5 339.5,84.5 339.5,94.6" fill="none" stroke="#383838" stroke-width="1.05"/>
<polygon points="321.4,84.5 331.7,82.7 331.7,86.3" fill="#111"/>
<polyline points="622.5,43.3 622.5,53.4 631.8,53.4" fill="none" stroke="#383838" stroke-width="1.05"/>
<polygon points="641.1,53.4 630.8,51.6 630.8,55.2" fill="#111"/>
<text transform="translate(267.8,13.3) scale(1,1)" font-size="18.2" text-anchor="start" fill="#1a1a1a" style="stroke-width:0.35px">b</text>
<defs><clipPath id="clipC"><rect x="37.5" y="209.2" width="186.0" height="132.40000000000003"/></clipPath></defs>
<g clip-path="url(#clipC)">
<polyline points="37.5,223.4 38.24,223.15 38.99,223.43 39.73,222.6 40.48,222.78 41.22,223 41.96,223.43 42.71,223.43 43.45,222.92 44.2,222.79 44.94,222.95 45.68,223.01 46.43,223.4 47.17,222.73 47.92,223.28 48.66,223.23 49.4,223.3 50.15,223.25 50.89,223.1 51.64,222.85 52.38,222.84 53.12,222.88 53.87,223.26 54.61,222.62 55.36,222.73 56.1,223.23 56.84,222.77 57.59,222.6 58.33,222.58 59.08,223.04 59.82,222.84 60.56,223.42 61.31,223.34 62.05,223.43 62.8,222.78 63.54,222.61 64.28,222.62 65.03,222.98 65.77,223.17 66.52,222.93 67.26,222.74 68,222.91 68.75,223.09 69.49,223.13 70.24,223.2 70.98,223.29 71.72,223.12 72.47,222.63 73.21,223.28 73.96,222.79 74.7,223.03 75.44,222.85 76.19,223.18 76.93,222.7 77.68,222.74 78.42,222.73 79.16,222.65 79.91,223.31 80.65,223.03 81.4,222.8 82.14,222.86 82.88,223.4 83.63,222.96 84.37,222.71 85.12,223.23 85.86,223.09 86.6,223.39 87.35,222.59 88.09,222.93 88.84,223.23 89.58,223.25 90.32,223.32 91.07,222.53 91.81,222.76 92.56,222.6 93.3,222.66 94.04,223.36 94.79,223.01 95.53,223.32 96.28,222.82 97.02,223.26 97.76,222.89 98.51,222.72 99.25,223.18 100,223.33 100.74,222.57 101.48,223.01 102.23,223.03 102.97,222.67 103.72,222.81 104.46,222.6 105.2,222.65 105.95,222.7 106.69,223.01 107.44,223.05 108.18,222.65 108.92,222.48 109.67,222.76 110.41,223.07 111.16,222.63 111.9,222.74 112.64,222.64 113.39,223.17 114.13,222.95 114.88,222.51 115.62,222.55 116.36,222.81 117.11,222.95 117.85,223.03 118.6,222.53 119.34,222.6 120.08,223.07 120.83,222.82 121.57,222.7 122.32,222.72 123.06,223.3 123.8,222.72 124.55,222.95 125.29,222.76 126.04,222.81 126.78,223.22 127.52,223.33 128.27,222.76 129.01,222.61 129.76,223.09 130.5,222.61 131.24,222.44 131.99,223.24 132.73,222.81 133.48,223.16 134.22,222.79 134.96,223.22 135.71,222.84 136.45,222.57 137.2,222.43 137.94,222.92 138.68,222.99 139.43,223.24 140.17,222.5 140.92,222.97 141.66,222.75 142.4,222.87 143.15,222.54 143.89,222.67 144.64,222.88 145.38,223.24 146.12,222.5 146.87,222.85 147.61,223.13 148.36,223.27 149.1,222.58 149.84,222.51 150.59,223.25 151.33,223.28 152.08,222.83 152.82,222.44 153.56,223.23 154.31,222.74 155.05,223.21 155.8,222.95 156.54,223.13 157.28,222.53 158.03,223.1 158.77,222.59 159.52,222.75 160.26,223.15 161,223.13 161.75,222.55 162.49,222.58 163.24,222.74 163.98,222.84 164.72,222.72 165.47,222.49 166.21,222.6 166.96,223.03 167.7,223.18 168.44,222.41 169.19,222.88 169.93,223.05 170.68,222.4 171.42,223.12 172.16,222.47 172.91,222.9 173.65,222.86 174.4,222.93 175.14,222.64 175.88,222.74 176.63,222.88 177.37,222.74 178.12,222.95 178.86,222.76 179.6,222.75 180.35,222.37 181.09,222.91 181.84,222.79 182.58,222.56 183.32,223.03 184.07,223.05 184.81,222.76 185.56,222.51 186.3,222.77 187.04,222.44 187.79,222.46 188.53,222.73 189.28,222.42 190.02,222.73 190.76,222.8 191.51,222.37 192.25,222.91 193,222.41 193.74,222.99 194.48,223.03 195.23,222.79 195.97,222.38 196.72,222.78 197.46,222.67 198.2,223.18 198.95,222.45 199.69,223.09 200.44,223.22 201.18,222.98 201.92,223.05 202.67,222.49 203.41,223.2 204.16,222.76 204.9,223.17 205.64,223.14 206.39,222.46 207.13,223.02 207.88,223.15 208.62,222.37 209.36,222.62 210.11,222.99 210.85,222.45 211.6,223.11 212.34,222.55 213.08,223.03 213.83,222.43 214.57,222.75 215.32,223.13 216.06,222.48 216.8,222.53 217.55,222.75 218.29,222.58 219.04,222.32 219.78,222.45 220.52,222.43 221.27,223.13 222.01,222.9 222.76,223.09 223.5,222.44" fill="none" stroke="#EE8426" stroke-width="6.4" stroke-linecap="round" stroke-linejoin="round" />
<polyline points="37.5,229.8 38.76,227.43 40.01,227.37 41.27,227.32 42.52,227.26 43.78,227.22 45.03,227.18 46.29,227.14 47.54,227.11 48.8,227.08 50.05,227.06 51.31,227.04 52.57,227.02 53.82,227.01 55.08,227 56.33,227 57.59,226.99 58.84,226.99 60.1,227 61.35,227 62.61,227 63.87,227.01 65.12,227.02 66.38,227.03 67.63,227.04 68.89,227.05 70.14,227.06 71.4,227.08 72.65,227.09 73.91,227.1 75.16,227.11 76.42,227.12 77.68,227.13 78.93,227.14 80.19,227.15 81.44,227.15 82.7,227.16 83.95,227.16 85.21,227.16 86.46,227.15 87.72,227.15" fill="none" stroke="#3D8BD8" stroke-width="3.3" stroke-linecap="round" stroke-linejoin="round" />
<circle cx="37.87" cy="230.38" r="2.2" fill="#3D8BD8"/>
<polyline points="37.5,299.2 38.24,299.45 38.99,299.34 39.73,299.54 40.48,299.5 41.22,299.75 41.96,299.8 42.71,299.61 43.45,299.9 44.2,299.86 44.94,299.69 45.68,300.22 46.43,299.84 47.17,299.83 47.92,299.84 48.66,300.2 49.4,300.39 50.15,300.37 50.89,300.19 51.64,300.15 52.38,300.04 53.12,300.46 53.87,300.45 54.61,300.37 55.36,300.58 56.1,300.51 56.84,300.84 57.59,300.76 58.33,300.51 59.08,300.95 59.82,300.47 60.56,300.81 61.31,300.77 62.05,300.72 62.8,300.65 63.54,301.12 64.28,300.71 65.03,301.07 65.77,301.35 66.52,300.91 67.26,300.98 68,301.27 68.75,301.25 69.49,301.37 70.24,301.52 70.98,301.18 71.72,301.3 72.47,301.34 73.21,301.23 73.96,301.77 74.7,301.75 75.44,301.75 76.19,301.37 76.93,301.91 77.68,301.89 78.42,301.77 79.16,301.98 79.91,301.84 80.65,301.75 81.4,301.72 82.14,301.84 82.88,301.76 83.63,301.98 84.37,302.27 85.12,302.28 85.86,302.41 86.6,302.37 87.35,302.15 88.09,302.36 88.84,302.33 89.58,302.58 90.32,302.47 91.07,302.35 91.81,302.62 92.56,302.85 93.3,302.45 94.04,302.88 94.79,302.41 95.53,302.6 96.28,302.62 97.02,302.96 97.76,303.12 98.51,303.04 99.25,302.82 100,303.19 100.74,302.89 101.48,302.87 102.23,303.31 102.97,303.18 103.72,303.25 104.46,303.27 105.2,303.49 105.95,303.22 106.69,303.49 107.44,303.44 108.18,303.58 108.92,303.37 109.67,303.59 110.41,303.54 111.16,303.43 111.9,303.43 112.64,303.73 113.39,303.46 114.13,304.01 114.88,303.61 115.62,303.59 116.36,303.7 117.11,304.25 117.85,303.95 118.6,303.89 119.34,303.88 120.08,303.94 120.83,304.39 121.57,304.42 122.32,304.51 123.06,304.6 123.8,304.25 124.55,304.63 125.29,304.55 126.04,304.89 126.78,304.95 127.52,305.05 128.27,304.62 129.01,305.16 129.76,305.25 130.5,305.33 131.24,304.89 131.99,305.01 132.73,305.01 133.48,305.03 134.22,305.58 134.96,305.62 135.71,305.58 136.45,305.75 137.2,305.7 137.94,305.55 138.68,305.5 139.43,305.56 140.17,306.02 140.92,305.75 141.66,305.88 142.4,306.01 143.15,305.83 143.89,306.03 144.64,306.11 145.38,306.43 146.12,306.28 146.87,306.31 147.61,306.76 148.36,306.54 149.1,306.81 149.84,306.73 150.59,306.44 151.33,306.73 152.08,306.8 152.82,307.07 153.56,306.87 154.31,307.15 155.05,307.11 155.8,306.97 156.54,307.42 157.28,307.02 158.03,307.52 158.77,307.19 159.52,307.15 160.26,307.33 161,307.72 161.75,307.91 162.49,307.39 163.24,307.74 163.98,307.8 164.72,308.05 165.47,307.74 166.21,307.98 166.96,307.96 167.7,308.31 168.44,308.02 169.19,308.5 169.93,308.16 170.68,308.18 171.42,308.53 172.16,308.47 172.91,308.3 173.65,308.67 174.4,308.4 175.14,308.88 175.88,308.89 176.63,309 177.37,308.97 178.12,308.86 178.86,308.95 179.6,309.01 180.35,309.36 181.09,308.94 181.84,309.48 182.58,309.02 183.32,309.19 184.07,309.28 184.81,309.73 185.56,309.54 186.3,309.53 187.04,309.89 187.79,309.56 188.53,309.76 189.28,309.86 190.02,310.05 190.76,310.11 191.51,310.1 192.25,309.98 193,310.03 193.74,309.98 194.48,310.46 195.23,310.41 195.97,310.51 196.72,310.23 197.46,310.45 198.2,310.71 198.95,310.65 199.69,310.43 200.44,310.69 201.18,311.01 201.92,310.68 202.67,310.71 203.41,310.83 204.16,311.13 204.9,311.27 205.64,310.92 206.39,310.97 207.13,311.09 207.88,311.19 208.62,311.37 209.36,311.21 210.11,311.37 210.85,311.34 211.6,311.87 212.34,311.78 213.08,311.46 213.83,312.04 214.57,311.58 215.32,311.81 216.06,312.23 216.8,312.17 217.55,312.19 218.29,312.07 219.04,311.98 219.78,312.31 220.52,312.05 221.27,312.17 222.01,312.33 222.76,312.18 223.5,312.46" fill="none" stroke="#EE8426" stroke-width="5.0" stroke-linecap="round" stroke-linejoin="round" />
<polyline points="37.5,304.09 37.81,304.57 38.12,305.07 38.43,305.57 38.75,306.07 39.06,306.58 39.37,307.08 39.68,307.58 39.99,308.06 40.3,308.53 40.62,308.99 40.93,309.43 41.24,309.85 41.55,310.25 41.86,310.64 42.17,311.01 42.48,311.37 42.8,311.72 43.11,312.06 43.42,312.39 43.73,312.7 44.04,313 44.35,313.29 44.67,313.56 44.98,313.83 45.29,314.08 45.6,314.32 45.91,314.56 46.22,314.78 46.53,314.99 46.85,315.2 47.16,315.4 47.47,315.58 47.78,315.76 48.09,315.92 48.4,316.08 48.72,316.23 49.03,316.37 49.34,316.49 49.65,316.6 49.96,316.68 50.27,316.75 50.59,316.81 50.9,316.85 51.21,316.89 51.52,316.93 51.83,316.96 52.14,317 52.45,317.04 52.77,317.09 53.08,317.16 53.39,317.23 53.7,317.33 54.01,317.44 54.32,317.56 54.64,317.68 54.95,317.8 55.26,317.92 55.57,318.05 55.88,318.18 56.19,318.32 56.5,318.45 56.82,318.59 57.13,318.73 57.44,318.87 57.75,319.01 58.06,319.15 58.37,319.3 58.69,319.44 59,319.58 59.31,319.72 59.62,319.86 59.93,320 60.24,320.14 60.55,320.27 60.87,320.4 61.18,320.53 61.49,320.66 61.8,320.79 62.11,320.91 62.42,321.02 62.74,321.14 63.05,321.24 63.36,321.35 63.67,321.45 63.98,321.54 64.29,321.63 64.6,321.71 64.92,321.8 65.23,321.88 65.54,321.95 65.85,322.03 66.16,322.1 66.47,322.17 66.79,322.24 67.1,322.3 67.41,322.36 67.72,322.42 68.03,322.48 68.34,322.54 68.66,322.6 68.97,322.65 69.28,322.7 69.59,322.75 69.9,322.8 70.21,322.85 70.52,322.9 70.84,322.94 71.15,322.99 71.46,323.04 71.77,323.08 72.08,323.13 72.39,323.17 72.71,323.22 73.02,323.26 73.33,323.3 73.64,323.35 73.95,323.39 74.26,323.44 74.57,323.49 74.89,323.53 75.2,323.58 75.51,323.62 75.82,323.67 76.13,323.71 76.44,323.76 76.76,323.8 77.07,323.84 77.38,323.88 77.69,323.92 78,323.96 78.31,324 78.62,324.04 78.94,324.08 79.25,324.11 79.56,324.15 79.87,324.19 80.18,324.23 80.49,324.26 80.81,324.3 81.12,324.33 81.43,324.37 81.74,324.4 82.05,324.44 82.36,324.48 82.67,324.51 82.99,324.55 83.3,324.58 83.61,324.62 83.92,324.65 84.23,324.69 84.54,324.72 84.86,324.76 85.17,324.79 85.48,324.83 85.79,324.86 86.1,324.9 86.41,324.94 86.72,324.97 87.04,325.01 87.35,325.05" fill="none" stroke="#3D8BD8" stroke-width="4.8" stroke-linecap="round" stroke-linejoin="round" />
</g>
<rect x="37.5" y="209.2" width="186" height="132.4" fill="none" stroke="#383838" stroke-width="1.15"/>
<line x1="33" y1="209.2" x2="37.5" y2="209.2" stroke="#383838" stroke-width="1.1"/>
<line x1="37.5" y1="341.6" x2="37.5" y2="346.1" stroke="#383838" stroke-width="1.1"/>
<text transform="translate(37.5,356.6) scale(0.95,1)" font-size="9.87" text-anchor="middle" fill="#1a1a1a" >0</text>
<line x1="74.7" y1="341.6" x2="74.7" y2="346.1" stroke="#383838" stroke-width="1.1"/>
<text transform="translate(74.7,356.6) scale(0.95,1)" font-size="9.87" text-anchor="middle" fill="#1a1a1a" >200</text>
<line x1="111.9" y1="341.6" x2="111.9" y2="346.1" stroke="#383838" stroke-width="1.1"/>
<text transform="translate(111.9,356.6) scale(0.95,1)" font-size="9.87" text-anchor="middle" fill="#1a1a1a" >400</text>
<line x1="149.1" y1="341.6" x2="149.1" y2="346.1" stroke="#383838" stroke-width="1.1"/>
<text transform="translate(149.1,356.6) scale(0.95,1)" font-size="9.87" text-anchor="middle" fill="#1a1a1a" >600</text>
<line x1="186.3" y1="341.6" x2="186.3" y2="346.1" stroke="#383838" stroke-width="1.1"/>
<text transform="translate(186.3,356.6) scale(0.95,1)" font-size="9.87" text-anchor="middle" fill="#1a1a1a" >800</text>
<line x1="223.5" y1="341.6" x2="223.5" y2="346.1" stroke="#383838" stroke-width="1.1"/>
<text transform="translate(223.5,356.6) scale(0.95,1)" font-size="9.87" text-anchor="middle" fill="#1a1a1a" >1000</text>
<line x1="56.1" y1="341.6" x2="56.1" y2="344.1" stroke="#383838" stroke-width="1.1"/>
<line x1="93.3" y1="341.6" x2="93.3" y2="344.1" stroke="#383838" stroke-width="1.1"/>
<line x1="130.5" y1="341.6" x2="130.5" y2="344.1" stroke="#383838" stroke-width="1.1"/>
<line x1="167.7" y1="341.6" x2="167.7" y2="344.1" stroke="#383838" stroke-width="1.1"/>
<line x1="204.9" y1="341.6" x2="204.9" y2="344.1" stroke="#383838" stroke-width="1.1"/>
<line x1="33" y1="341.6" x2="37.5" y2="341.6" stroke="#383838" stroke-width="1.1"/>
<text transform="translate(31.4,344.95) scale(0.95,1)" font-size="9.87" text-anchor="end" fill="#1a1a1a" >0</text>
<line x1="33" y1="297.47" x2="37.5" y2="297.47" stroke="#383838" stroke-width="1.1"/>
<text transform="translate(31.4,300.82) scale(0.95,1)" font-size="9.87" text-anchor="end" fill="#1a1a1a" >100</text>
<line x1="33" y1="253.33" x2="37.5" y2="253.33" stroke="#383838" stroke-width="1.1"/>
<text transform="translate(31.4,256.68) scale(0.95,1)" font-size="9.87" text-anchor="end" fill="#1a1a1a" >200</text>
<line x1="33" y1="209.2" x2="37.5" y2="209.2" stroke="#383838" stroke-width="1.1"/>
<text transform="translate(31.4,212.55) scale(0.95,1)" font-size="9.87" text-anchor="end" fill="#1a1a1a" >300</text>
<line x1="35" y1="319.53" x2="37.5" y2="319.53" stroke="#383838" stroke-width="1.1"/>
<line x1="35" y1="275.4" x2="37.5" y2="275.4" stroke="#383838" stroke-width="1.1"/>
<line x1="35" y1="231.27" x2="37.5" y2="231.27" stroke="#383838" stroke-width="1.1"/>
<line x1="223.5" y1="341.6" x2="228" y2="341.6" stroke="#383838" stroke-width="1.1"/>
<text transform="translate(230,344.95) scale(0.95,1)" font-size="9.87" text-anchor="start" fill="#1a1a1a" >60</text>
<line x1="223.5" y1="312.18" x2="228" y2="312.18" stroke="#383838" stroke-width="1.1"/>
<text transform="translate(230,315.53) scale(0.95,1)" font-size="9.87" text-anchor="start" fill="#1a1a1a" >70</text>
<line x1="223.5" y1="282.76" x2="228" y2="282.76" stroke="#383838" stroke-width="1.1"/>
<text transform="translate(230,286.11) scale(0.95,1)" font-size="9.87" text-anchor="start" fill="#1a1a1a" >80</text>
<line x1="223.5" y1="253.33" x2="228" y2="253.33" stroke="#383838" stroke-width="1.1"/>
<text transform="translate(230,256.68) scale(0.95,1)" font-size="9.87" text-anchor="start" fill="#1a1a1a" >90</text>
<line x1="223.5" y1="223.91" x2="228" y2="223.91" stroke="#383838" stroke-width="1.1"/>
<text transform="translate(230,227.26) scale(0.95,1)" font-size="9.87" text-anchor="start" fill="#1a1a1a" >100</text>
<line x1="223.5" y1="326.89" x2="226" y2="326.89" stroke="#383838" stroke-width="1.1"/>
<line x1="223.5" y1="297.47" x2="226" y2="297.47" stroke="#383838" stroke-width="1.1"/>
<line x1="223.5" y1="268.04" x2="226" y2="268.04" stroke="#383838" stroke-width="1.1"/>
<line x1="223.5" y1="238.62" x2="226" y2="238.62" stroke="#383838" stroke-width="1.1"/>
<line x1="223.5" y1="209.2" x2="226" y2="209.2" stroke="#383838" stroke-width="1.1"/>
<text transform="translate(12,275.4) rotate(-90) scale(0.95,1)" font-size="9.97" text-anchor="middle" fill="#1a1a1a">Gravimetric capacity (mAh g<tspan font-size="6.5" dy="-3.2">-1</tspan><tspan dy="3.2">)</tspan></text>
<text transform="translate(254.7,275.4) rotate(-90) scale(0.95,1)" font-size="9.97" text-anchor="middle" fill="#1a1a1a">Coulombic efficiency (%)</text>
<text transform="translate(130.4,369) scale(0.95,1)" font-size="9.97" text-anchor="middle" fill="#1a1a1a" >Cycle number</text>
<circle cx="157.2" cy="261.2" r="2.6" fill="#EE8426"/>
<circle cx="157.2" cy="273.7" r="2.6" fill="#3D8BD8"/>
<text transform="translate(170.9,264.6) scale(0.95,1)" font-size="10.29" text-anchor="start" fill="#1a1a1a" >ZnSO<tspan font-size="6.5" dy="2">4</tspan><tspan dy="-2">/FU</tspan></text>
<text transform="translate(170.9,277.4) scale(0.95,1)" font-size="10.29" text-anchor="start" fill="#1a1a1a" >ZnSO<tspan font-size="6.5" dy="2">4</tspan><tspan dy="-2"></tspan></text>
<text transform="translate(118.8,271.9) scale(0.95,1)" font-size="10.08" text-anchor="start" fill="#1a1a1a" >2 A g<tspan font-size="6.5" dy="-3.2">-1</tspan><tspan dy="3.2"></tspan></text>
<text transform="translate(201.4,303.7) scale(0.95,1)" font-size="9.87" text-anchor="start" fill="#1a1a1a" >70%</text>
<text transform="translate(82.8,320.1) scale(0.95,1)" font-size="9.87" text-anchor="start" fill="#1a1a1a" >47%</text>
<text transform="translate(103.9,334) scale(0.95,1)" font-size="10.01" text-anchor="start" fill="#1a1a1a" >Zn-predeposited Cu||MnVO</text>
<polyline points="52.9,280.6 60.7,280.6 60.7,290.5" fill="none" stroke="#383838" stroke-width="1.05"/>
<polygon points="43.6,280.6 53.9,278.8 53.9,282.4" fill="#111"/>
<polyline points="195.8,232.7 195.8,242.7 204.5,242.7" fill="none" stroke="#383838" stroke-width="1.05"/>
<polygon points="213.8,242.7 203.5,240.9 203.5,244.5" fill="#111"/>
<text transform="translate(0.1,201) scale(1,1)" font-size="18.2" text-anchor="start" fill="#1a1a1a" style="stroke-width:0.35px">c</text>
<defs><clipPath id="clipD"><rect x="308.5" y="209.2" width="341.79999999999995" height="132.60000000000002"/></clipPath></defs>
<g clip-path="url(#clipD)">
<polyline points="308.5,225.99 309.64,225.41 310.78,224.84 311.92,224.74 313.06,224.18 314.2,224.64 315.34,224.39 316.48,224.42 317.61,224.46 318.75,224.54 319.89,224.25 321.03,224.26 322.17,224.58 323.31,224.05 324.45,224.38 325.59,224.38 326.73,224.02 327.87,224.38 329.01,224.43 330.15,224.58 331.29,224.23 332.43,224.63 333.57,224.35 334.7,224.35 335.84,224.6 336.98,224.09 338.12,224.51 339.26,224.45 340.4,224.28 341.54,224.6 342.68,224.29 343.82,224.35 344.96,224.37 346.1,224.51 347.24,224.15 348.38,224.27 349.52,224.23 350.66,224.28 351.79,224.38 352.93,223.84 354.07,223.84 355.21,223.27 356.35,223.1 357.49,222.89 358.63,223 359.77,223.26 360.91,223.06 362.05,223.15 363.19,222.89 364.33,222.91 365.47,222.94 366.61,223.16 367.75,223.24 368.88,223.39 370.02,223 371.16,223.48 372.3,223.67 373.44,223.62 374.58,223.51 375.72,223.84 376.86,223.84 378,224.09 379.14,224.62 380.28,224.44 381.42,224.48 382.56,224.56 383.7,224.64 384.84,224.46 385.97,224.47 387.11,224.48 388.25,224.52 389.39,224.47 390.53,224.52 391.67,224.24 392.81,224.52 393.95,224.4 395.09,224.58 396.23,224.19 397.37,224.24 398.51,224.16 399.65,224.6 400.79,224.69 401.93,224.54 403.06,224.37 404.2,224.64 405.34,224.62 406.48,224.49 407.62,224.31 408.76,224.34 409.9,224.42 411.04,224.36 412.18,224.43 413.32,224.56 414.46,224.73 415.6,224.21 416.74,224.52 417.88,224.2 419.02,224.25 420.15,224.67 421.29,224.53 422.43,224.74 423.57,224.46 424.71,224.2 425.85,224.42 426.99,224.55 428.13,224.76 429.27,224.79 430.41,224.48 431.55,224.45 432.69,224.26 433.83,224.59 434.97,224.33 436.11,224.3 437.24,224.22 438.38,224.21 439.52,224.62 440.66,224.28 441.8,224.79 442.94,224.27 444.08,224.74 445.22,224.29 446.36,224.23 447.5,224.65 448.64,224.36 449.78,224.66 450.92,224.33 452.06,224.25 453.2,224.68 454.33,224.65 455.47,224.73 456.61,224.66 457.75,224.27 458.89,224.6 460.03,224.65 461.17,224.5 462.31,224.78 463.45,224.38 464.59,224.8 465.73,224.65 466.87,224.23 468.01,224.23 469.15,224.61 470.29,224.71 471.42,224.27 472.56,224.41 473.7,224.66 474.84,224.32 475.98,224.74 477.12,224.51 478.26,224.26 479.4,224.44 480.54,224.57 481.68,224.48 482.82,224.63 483.96,224.31 485.1,224.7 486.24,224.44 487.38,224.61 488.51,224.6 489.65,224.47 490.79,224.45 491.93,224.69 493.07,224.78 494.21,224.69 495.35,224.56 496.49,224.39 497.63,224.25 498.77,224.8 499.91,224.63 501.05,224.71 502.19,224.41 503.33,224.57 504.47,224.8 505.6,224.71 506.74,224.57 507.88,224.39 509.02,224.46 510.16,224.74 511.3,224.43 512.44,224.61 513.58,224.56 514.72,224.74 515.86,224.68 517,224.37 518.14,224.2 519.28,224.35 520.42,224.45 521.56,224.55 522.69,224.68 523.83,224.72 524.97,224.22 526.11,224.69 527.25,224.68 528.39,224.71 529.53,224.53 530.67,224.35 531.81,224.69 532.95,224.67 534.09,224.59 535.23,224.73 536.37,224.39 537.51,224.23 538.65,224.51 539.78,224.65 540.92,224.29 542.06,224.62 543.2,224.73 544.34,224.31 545.48,224.53 546.62,224.57 547.76,224.44 548.9,224.29 550.04,224.31 551.18,224.61 552.32,224.63 553.46,224.43 554.6,224.21 555.74,224.64 556.87,224.62 558.01,224.29 559.15,224.5 560.29,224.69 561.43,224.68 562.57,224.46 563.71,224.43 564.85,224.5 565.99,224.26 567.13,224.26 568.27,224.25 569.41,224.56 570.55,224.35 571.69,224.47 572.83,224.38 573.96,224.44 575.1,224.22 576.24,224.16 577.38,224.73 578.52,224.35 579.66,224.19 580.8,224.5 581.94,224.6 583.08,224.22 584.22,224.48 585.36,224.33 586.5,224.43 587.64,224.13 588.78,224.14 589.92,224.71 591.05,224.63 592.19,224.4 593.33,224.45 594.47,224.27 595.61,224.58 596.75,224.36 597.89,224.67 599.03,224.56 600.17,224.59 601.31,224.68 602.45,224.25 603.59,224.12 604.73,224.22 605.87,224.21 607.01,224.15 608.14,224.13 609.28,224.43 610.42,224.62 611.56,224.37 612.7,224.66 613.84,224.64 614.98,224.13 616.12,224.45 617.26,224.33 618.4,224.16 619.54,224.66 620.68,224.24 621.82,224.42 622.96,224.47 624.1,224.66 625.23,224.48 626.37,224.32 627.51,224.35 628.65,224.18 629.79,224.66 630.93,224.68 632.07,224.21 633.21,224.1 634.35,224.23 635.49,224.29 636.63,224.62 637.77,224.62 638.91,224.58 640.05,224.1 641.19,224.55 642.32,224.5 643.46,224.46 644.6,224.67 645.74,224.11 646.88,224.16 648.02,224.53 649.16,224.64 650.3,224.48" fill="none" stroke="#EE8426" stroke-width="6.0" stroke-linecap="round" stroke-linejoin="round" />
<circle cx="318.18" cy="220.69" r="3.0" fill="#EE8426"/>
<circle cx="348.38" cy="220.4" r="3.0" fill="#EE8426"/>
<circle cx="371.16" cy="220.4" r="3.0" fill="#EE8426"/>
<polyline points="308.5,223.56 309.56,223.68 310.62,223.74 311.68,223.48 312.74,223.57 313.81,223.54 314.87,223.49 315.93,223.63 316.99,223.51 318.05,223.53 319.11,223.5 320.17,223.71 321.23,223.44 322.29,223.73 323.35,223.52 324.42,223.45 325.48,223.81 326.54,223.53 327.6,223.81 328.66,223.79 329.72,223.79 330.78,223.49 331.84,223.62 332.9,223.48 333.96,223.81 335.03,223.78 336.09,223.69 337.15,223.62 338.21,223.57 339.27,223.77 340.33,223.63 341.39,223.69 342.45,223.5 343.51,223.53 344.57,223.46 345.64,223.72 346.7,223.66 347.76,223.5 348.82,223.79 349.88,223.55 350.94,223.6" fill="none" stroke="#3D8BD8" stroke-width="6.0" stroke-linecap="round" stroke-linejoin="round" />
<circle cx="329.01" cy="220.99" r="2.8" fill="#3D8BD8"/>
<polyline points="308.5,297.8 309.64,297.8 310.78,298.11 311.92,297.67 313.06,297.46 314.2,297.59 315.34,297.37 316.48,297.68 317.61,297.03 318.75,297.54 319.89,296.8 321.03,297.29 322.17,297.03 323.31,296.62 324.45,296.71 325.59,296.49 326.73,296.38 327.87,296.26 329.01,296.3 330.15,296.67 331.29,296.61 332.43,296.5 333.57,295.87 334.7,295.97 335.84,296.36 336.98,295.74 338.12,296.19 339.26,295.87 340.4,296.34 341.54,295.65 342.68,296.19 343.82,295.86 344.96,295.71 346.1,295.61 347.24,296.19 348.38,295.98 349.52,295.74 350.66,295.92 351.79,296.26 352.93,295.78 354.07,296.03 355.21,295.74 356.35,295.78 357.49,296.2 358.63,296.17 359.77,295.83 360.91,295.76 362.05,295.78 363.19,296.16 364.33,296.1 365.47,295.96 366.61,295.93 367.75,296.23 368.88,296.32 370.02,296.41 371.16,296.27 372.3,296.02 373.44,295.94 374.58,296.43 375.72,296.22 376.86,296.45 378,296 379.14,296.55 380.28,296.23 381.42,296.6 382.56,296.63 383.7,296.38 384.84,296.06 385.97,296.7 387.11,296.41 388.25,296.69 389.39,296.27 390.53,296.22 391.67,296.68 392.81,296.36 393.95,296.22 395.09,296.36 396.23,296.52 397.37,296.1 398.51,296.46 399.65,296.41 400.79,296.45 401.93,296.18 403.06,296.59 404.2,296.66 405.34,296.69 406.48,296.3 407.62,296.57 408.76,296.34 409.9,296.59 411.04,296.1 412.18,296.67 413.32,296.72 414.46,296.39 415.6,296.4 416.74,296.4 417.88,296.4 419.02,296.03 420.15,296.69 421.29,296.16 422.43,296.13 423.57,296.06 424.71,296.16 425.85,296.55 426.99,295.99 428.13,296.03 429.27,296.44 430.41,296.08 431.55,295.95 432.69,296.35 433.83,296.33 434.97,296.28 436.11,296.4 437.24,295.97 438.38,296.5 439.52,296.38 440.66,295.91 441.8,295.95 442.94,296.2 444.08,296.2 445.22,296.04 446.36,295.92 447.5,296.11 448.64,295.92 449.78,296.23 450.92,296.41 452.06,295.9 453.2,296.19 454.33,296.31 455.47,295.89 456.61,296.35 457.75,296.42 458.89,296.03 460.03,296.05 461.17,296.34 462.31,296.11 463.45,296.02 464.59,296.39 465.73,296.27 466.87,295.96 468.01,295.89 469.15,295.95 470.29,296.02 471.42,296.4 472.56,296.27 473.7,296.35 474.84,296.28 475.98,296.3 477.12,295.74 478.26,296.07 479.4,296.37 480.54,296.36 481.68,295.88 482.82,296 483.96,296.15 485.1,295.96 486.24,296.08 487.38,295.76 488.51,296.02 489.65,296.07 490.79,295.73 491.93,295.82 493.07,296.4 494.21,296.27 495.35,296.39 496.49,296.18 497.63,296.3 498.77,296.36 499.91,296.37 501.05,295.77 502.19,296.2 503.33,295.95 504.47,296.24 505.6,295.96 506.74,296.16 507.88,296.43 509.02,296.22 510.16,295.97 511.3,296.16 512.44,296.11 513.58,296.48 514.72,296.02 515.86,296.04 517,296.28 518.14,295.92 519.28,296.26 520.42,296.52 521.56,296.22 522.69,296.05 523.83,296.2 524.97,296.25 526.11,295.99 527.25,295.98 528.39,295.99 529.53,296.11 530.67,296.2 531.81,296.12 532.95,296.1 534.09,296 535.23,296.32 536.37,296.54 537.51,296.38 538.65,296.36 539.78,296.42 540.92,296.12 542.06,296.48 543.2,296.31 544.34,296.38 545.48,296.43 546.62,296.34 547.76,296.23 548.9,296.19 550.04,296.18 551.18,296.39 552.32,296.31 553.46,296.46 554.6,296.06 555.74,296.31 556.87,296.67 558.01,296.24 559.15,296.47 560.29,296.43 561.43,296.29 562.57,296.78 563.71,296.3 564.85,296.64 565.99,296.22 567.13,296.16 568.27,296.72 569.41,296.43 570.55,296.17 571.69,296.4 572.83,296.44 573.96,296.65 575.1,296.22 576.24,296.3 577.38,296.82 578.52,296.67 579.66,296.26 580.8,296.39 581.94,296.41 583.08,296.64 584.22,296.6 585.36,296.77 586.5,296.75 587.64,296.54 588.78,296.7 589.92,296.71 591.05,296.72 592.19,296.53 593.33,296.75 594.47,296.7 595.61,296.85 596.75,296.3 597.89,296.82 599.03,296.22 600.17,296.76 601.31,296.63 602.45,296.58 603.59,296.9 604.73,296.63 605.87,296.53 607.01,296.79 608.14,296.85 609.28,296.67 610.42,296.52 611.56,296.57 612.7,296.58 613.84,296.77 614.98,296.47 616.12,296.54 617.26,296.66 618.4,296.54 619.54,296.5 620.68,296.83 621.82,296.88 622.96,296.64 624.1,296.6 625.23,296.42 626.37,296.51 627.51,296.4 628.65,296.7 629.79,296.71 630.93,296.37 632.07,296.96 633.21,296.54 634.35,296.91 635.49,296.91 636.63,297 637.77,296.47 638.91,296.63 640.05,296.97 641.19,296.35 642.32,296.37 643.46,296.74 644.6,296.7 645.74,297 646.88,296.9 648.02,296.74 649.16,297.06 650.3,296.73" fill="none" stroke="#EE8426" stroke-width="5.6" stroke-linecap="round" stroke-linejoin="round" />
<polyline points="308.5,302.82 309.56,302.68 310.62,302.54 311.68,302.39 312.74,302.23 313.81,302.07 314.87,301.92 315.93,301.76 316.99,301.61 318.05,301.46 319.11,301.32 320.17,301.18 321.23,301.06 322.29,300.95 323.35,300.85 324.42,300.77 325.48,300.7 326.54,300.65 327.6,300.62 328.66,300.59 329.72,300.59 330.78,300.59 331.84,300.61 332.9,300.64 333.96,300.69 335.03,300.75 336.09,300.83 337.15,300.92 338.21,301.03 339.27,301.15 340.33,301.29 341.39,301.48 342.45,301.7 343.51,301.95 344.57,302.23 345.64,302.52 346.7,302.83 347.76,303.13 348.82,303.44 349.88,303.73 350.94,304.01" fill="none" stroke="#3D8BD8" stroke-width="5.4" stroke-linecap="round" stroke-linejoin="round" />
</g>
<rect x="308.5" y="209.2" width="341.8" height="132.6" fill="none" stroke="#383838" stroke-width="1.15"/>
<line x1="304" y1="209.2" x2="308.5" y2="209.2" stroke="#383838" stroke-width="1.1"/>
<line x1="308.5" y1="341.8" x2="308.5" y2="346.3" stroke="#383838" stroke-width="1.1"/>
<text transform="translate(308.5,356.8) scale(0.95,1)" font-size="9.87" text-anchor="middle" fill="#1a1a1a" >0</text>
<line x1="365.47" y1="341.8" x2="365.47" y2="346.3" stroke="#383838" stroke-width="1.1"/>
<text transform="translate(365.47,356.8) scale(0.95,1)" font-size="9.87" text-anchor="middle" fill="#1a1a1a" >10000</text>
<line x1="422.43" y1="341.8" x2="422.43" y2="346.3" stroke="#383838" stroke-width="1.1"/>
<text transform="translate(422.43,356.8) scale(0.95,1)" font-size="9.87" text-anchor="middle" fill="#1a1a1a" >20000</text>
<line x1="479.4" y1="341.8" x2="479.4" y2="346.3" stroke="#383838" stroke-width="1.1"/>
<text transform="translate(479.4,356.8) scale(0.95,1)" font-size="9.87" text-anchor="middle" fill="#1a1a1a" >30000</text>
<line x1="536.37" y1="341.8" x2="536.37" y2="346.3" stroke="#383838" stroke-width="1.1"/>
<text transform="translate(536.37,356.8) scale(0.95,1)" font-size="9.87" text-anchor="middle" fill="#1a1a1a" >40000</text>
<line x1="593.33" y1="341.8" x2="593.33" y2="346.3" stroke="#383838" stroke-width="1.1"/>
<text transform="translate(593.33,356.8) scale(0.95,1)" font-size="9.87" text-anchor="middle" fill="#1a1a1a" >50000</text>
<line x1="650.3" y1="341.8" x2="650.3" y2="346.3" stroke="#383838" stroke-width="1.1"/>
<text transform="translate(650.3,356.8) scale(0.95,1)" font-size="9.87" text-anchor="middle" fill="#1a1a1a" >60000</text>
<line x1="336.98" y1="341.8" x2="336.98" y2="344.3" stroke="#383838" stroke-width="1.1"/>
<line x1="393.95" y1="341.8" x2="393.95" y2="344.3" stroke="#383838" stroke-width="1.1"/>
<line x1="450.92" y1="341.8" x2="450.92" y2="344.3" stroke="#383838" stroke-width="1.1"/>
<line x1="507.88" y1="341.8" x2="507.88" y2="344.3" stroke="#383838" stroke-width="1.1"/>
<line x1="564.85" y1="341.8" x2="564.85" y2="344.3" stroke="#383838" stroke-width="1.1"/>
<line x1="621.82" y1="341.8" x2="621.82" y2="344.3" stroke="#383838" stroke-width="1.1"/>
<line x1="304" y1="341.8" x2="308.5" y2="341.8" stroke="#383838" stroke-width="1.1"/>
<text transform="translate(302.4,345.15) scale(0.95,1)" font-size="9.87" text-anchor="end" fill="#1a1a1a" >0</text>
<line x1="304" y1="308.65" x2="308.5" y2="308.65" stroke="#383838" stroke-width="1.1"/>
<text transform="translate(302.4,312) scale(0.95,1)" font-size="9.87" text-anchor="end" fill="#1a1a1a" >25</text>
<line x1="304" y1="275.5" x2="308.5" y2="275.5" stroke="#383838" stroke-width="1.1"/>
<text transform="translate(302.4,278.85) scale(0.95,1)" font-size="9.87" text-anchor="end" fill="#1a1a1a" >50</text>
<line x1="304" y1="242.35" x2="308.5" y2="242.35" stroke="#383838" stroke-width="1.1"/>
<text transform="translate(302.4,245.7) scale(0.95,1)" font-size="9.87" text-anchor="end" fill="#1a1a1a" >75</text>
<line x1="304" y1="209.2" x2="308.5" y2="209.2" stroke="#383838" stroke-width="1.1"/>
<text transform="translate(302.4,212.55) scale(0.95,1)" font-size="9.87" text-anchor="end" fill="#1a1a1a" >100</text>
<line x1="306" y1="325.23" x2="308.5" y2="325.23" stroke="#383838" stroke-width="1.1"/>
<line x1="306" y1="292.07" x2="308.5" y2="292.07" stroke="#383838" stroke-width="1.1"/>
<line x1="306" y1="258.93" x2="308.5" y2="258.93" stroke="#383838" stroke-width="1.1"/>
<line x1="306" y1="225.77" x2="308.5" y2="225.77" stroke="#383838" stroke-width="1.1"/>
<line x1="650.3" y1="341.8" x2="654.8" y2="341.8" stroke="#383838" stroke-width="1.1"/>
<text transform="translate(655.8,345.15) scale(0.95,1)" font-size="9.87" text-anchor="start" fill="#1a1a1a" >60</text>
<line x1="650.3" y1="312.33" x2="654.8" y2="312.33" stroke="#383838" stroke-width="1.1"/>
<text transform="translate(655.8,315.68) scale(0.95,1)" font-size="9.87" text-anchor="start" fill="#1a1a1a" >70</text>
<line x1="650.3" y1="282.87" x2="654.8" y2="282.87" stroke="#383838" stroke-width="1.1"/>
<text transform="translate(655.8,286.22) scale(0.95,1)" font-size="9.87" text-anchor="start" fill="#1a1a1a" >80</text>
<line x1="650.3" y1="253.4" x2="654.8" y2="253.4" stroke="#383838" stroke-width="1.1"/>
<text transform="translate(655.8,256.75) scale(0.95,1)" font-size="9.87" text-anchor="start" fill="#1a1a1a" >90</text>
<line x1="650.3" y1="223.93" x2="654.8" y2="223.93" stroke="#383838" stroke-width="1.1"/>
<text transform="translate(655.8,227.28) scale(0.95,1)" font-size="9.87" text-anchor="start" fill="#1a1a1a" >100</text>
<line x1="650.3" y1="327.07" x2="652.8" y2="327.07" stroke="#383838" stroke-width="1.1"/>
<line x1="650.3" y1="297.6" x2="652.8" y2="297.6" stroke="#383838" stroke-width="1.1"/>
<line x1="650.3" y1="268.13" x2="652.8" y2="268.13" stroke="#383838" stroke-width="1.1"/>
<line x1="650.3" y1="238.67" x2="652.8" y2="238.67" stroke="#383838" stroke-width="1.1"/>
<line x1="650.3" y1="209.2" x2="652.8" y2="209.2" stroke="#383838" stroke-width="1.1"/>
<text transform="translate(281.1,275.5) rotate(-90) scale(0.95,1)" font-size="9.97" text-anchor="middle" fill="#1a1a1a">Gravimetric capacity (mAh g<tspan font-size="6.5" dy="-3.2">-1</tspan><tspan dy="3.2">)</tspan></text>
<text transform="translate(682.2,272.7) rotate(-90) scale(0.95,1)" font-size="9.97" text-anchor="middle" fill="#1a1a1a">Coulombic efficiency (%)</text>
<text transform="translate(479.4,369) scale(0.95,1)" font-size="9.97" text-anchor="middle" fill="#1a1a1a" >Cycle number</text>
<circle cx="547.8" cy="244.7" r="2.6" fill="#EE8426"/>
<circle cx="547.8" cy="258.5" r="2.6" fill="#3D8BD8"/>
<text transform="translate(558.6,248.1) scale(0.95,1)" font-size="10.19" text-anchor="start" fill="#1a1a1a" >ZnSO<tspan font-size="6.5" dy="2">4</tspan><tspan dy="-2">/FU</tspan></text>
<text transform="translate(558.6,261.9) scale(0.95,1)" font-size="10.19" text-anchor="start" fill="#1a1a1a" >ZnSO<tspan font-size="6.5" dy="2">4</tspan><tspan dy="-2"></tspan></text>
<text transform="translate(459.7,270) scale(0.95,1)" font-size="9.87" text-anchor="start" fill="#1a1a1a" >10 A g<tspan font-size="6.5" dy="-3.2">-1</tspan><tspan dy="3.2"></tspan></text>
<text transform="translate(582.7,325.7) scale(0.95,1)" font-size="9.87" text-anchor="start" fill="#1a1a1a" >Zn||AC</text>
<polyline points="329.4,281.7 338.2,281.7 338.2,291.4" fill="none" stroke="#383838" stroke-width="1.05"/>
<polygon points="320.1,281.7 330.4,279.9 330.4,283.5" fill="#111"/>
<polyline points="614.5,232 614.5,241.6 622.7,241.6" fill="none" stroke="#383838" stroke-width="1.05"/>
<polygon points="632,241.6 621.7,239.8 621.7,243.4" fill="#111"/>
<text transform="translate(267.2,201) scale(1,1)" font-size="18.2" text-anchor="start" fill="#1a1a1a" style="stroke-width:0.35px">d</text>
<defs><clipPath id="clipE"><rect x="37.1" y="402.4" width="182.8" height="134.60000000000002"/></clipPath></defs>
<g clip-path="url(#clipE)">
<polyline points="37.1,410.16 38.01,410.13 38.93,409.88 39.84,410.52 40.76,410.16 41.67,409.57 42.58,409.94 43.5,410.31 44.41,409.83 45.33,410.22 46.24,409.53 47.15,409.83 48.07,410.37 48.98,410.11 49.9,410.2 50.81,409.72 51.72,410.03 52.64,410.08 53.55,409.79 54.47,410.17 55.38,410.06 56.29,410.52 57.21,410.1 58.12,409.94 59.04,409.65 59.95,409.68 60.86,410.29 61.78,409.63 62.69,409.63 63.61,409.7 64.52,410.05 65.43,410.35 66.35,410.14 67.26,410.33 68.18,409.59 69.09,409.54 70,410.3 70.92,409.85 71.83,410.24 72.75,409.88 73.66,409.7 74.57,409.79 75.49,409.63 76.4,410.43 77.32,410.11 78.23,409.88 79.14,409.98 80.06,409.91 80.97,409.58 81.89,410.42 82.8,410.11 83.71,410.49 84.63,409.97 85.54,410.15 86.46,409.78 87.37,409.57 88.28,410.46 89.2,410.38 90.11,409.84 91.03,410.43 91.94,410.34 92.85,409.83 93.77,410.13 94.68,410.49 95.6,410.02 96.51,410.48 97.42,409.77 98.34,409.92 99.25,410.25 100.17,409.75 101.08,409.84 101.99,410.4 102.91,410.01 103.82,410.32 104.74,409.77 105.65,409.7 106.56,409.89 107.48,409.71 108.39,410.5 109.31,409.82 110.22,410.09 111.13,409.64 112.05,410.06 112.96,409.91 113.88,409.93 114.79,409.59 115.7,409.65 116.62,410.35 117.53,409.88 118.45,409.77 119.36,409.72 120.27,409.81 121.19,409.76 122.1,409.56 123.02,410.19 123.93,409.87 124.84,409.68 125.76,410.23 126.67,409.62 127.59,409.8 128.5,410.36 129.41,409.66 130.33,409.97 131.24,410.36 132.16,410.33 133.07,409.69 133.98,409.88 134.9,410.25 135.81,409.9 136.73,410.49 137.64,409.74 138.55,410.48 139.47,410.03 140.38,409.75 141.3,409.98 142.21,409.66 143.12,410.23 144.04,409.79 144.95,410.43 145.87,410.11 146.78,409.9 147.69,409.77 148.61,410.14 149.52,409.74 150.44,410.4 151.35,409.65 152.26,410.04 153.18,410.07 154.09,409.8 155.01,410.3 155.92,409.91 156.83,410.18 157.75,410.1 158.66,409.84 159.58,409.92 160.49,409.61 161.4,409.7 162.32,410.38 163.23,409.85 164.15,410.19 165.06,409.64 165.97,410.09 166.89,409.89 167.8,410.03 168.72,409.82 169.63,409.59 170.54,409.84 171.46,409.75 172.37,409.65 173.29,410.24 174.2,409.81 175.11,409.93 176.03,410.44 176.94,410.3 177.86,410.41 178.77,410.39 179.68,409.66 180.6,409.8 181.51,409.56 182.43,410.21 183.34,410.19 184.25,409.88 185.17,409.94 186.08,410.19 187,410.23 187.91,409.78 188.82,410.37 189.74,409.88 190.65,410.16 191.57,409.71 192.48,409.64 193.39,410.44 194.31,410.26 195.22,410.24 196.14,409.57 197.05,409.57 197.96,409.69 198.88,409.73 199.79,409.83 200.71,409.91 201.62,409.57 202.53,409.84 203.45,410.17 204.36,409.71 205.28,410.37 206.19,410.1 207.1,410.24 208.02,409.78 208.93,409.96 209.85,410.21 210.76,409.88 211.67,409.53 212.59,410.36 213.5,410.3 214.42,409.81 215.33,409.57 216.24,410.38 217.16,410.13 218.07,409.57 218.99,409.77 219.9,409.64" fill="none" stroke="#EE8426" stroke-width="5.8" stroke-linecap="round" stroke-linejoin="round" />
<circle cx="123.28" cy="410.16" r="2.4" fill="#EE8426"/>
<circle cx="124.84" cy="409.87" r="2.4" fill="#EE8426"/>
<circle cx="126.41" cy="408.89" r="2.4" fill="#EE8426"/>
<circle cx="127.98" cy="410.12" r="2.4" fill="#EE8426"/>
<circle cx="129.54" cy="410.01" r="2.4" fill="#EE8426"/>
<circle cx="131.11" cy="409.79" r="2.4" fill="#EE8426"/>
<circle cx="132.68" cy="410.88" r="2.4" fill="#EE8426"/>
<circle cx="134.25" cy="410" r="2.4" fill="#EE8426"/>
<circle cx="135.81" cy="409.68" r="2.4" fill="#EE8426"/>
<circle cx="137.38" cy="409.24" r="2.4" fill="#EE8426"/>
<circle cx="138.95" cy="411.12" r="2.4" fill="#EE8426"/>
<circle cx="140.51" cy="410.56" r="2.4" fill="#EE8426"/>
<circle cx="142.08" cy="411.13" r="2.4" fill="#EE8426"/>
<circle cx="143.65" cy="409.19" r="2.4" fill="#EE8426"/>
<circle cx="145.21" cy="409.51" r="2.4" fill="#EE8426"/>
<circle cx="146.78" cy="411.26" r="2.4" fill="#EE8426"/>
<circle cx="148.35" cy="408.73" r="2.4" fill="#EE8426"/>
<circle cx="149.91" cy="408.78" r="2.4" fill="#EE8426"/>
<circle cx="151.48" cy="409.61" r="2.4" fill="#EE8426"/>
<circle cx="153.05" cy="409.72" r="2.4" fill="#EE8426"/>
<circle cx="154.61" cy="410.95" r="2.4" fill="#EE8426"/>
<circle cx="156.18" cy="411.33" r="2.4" fill="#EE8426"/>
<circle cx="157.75" cy="409.95" r="2.4" fill="#EE8426"/>
<circle cx="159.31" cy="411.21" r="2.4" fill="#EE8426"/>
<circle cx="160.88" cy="410.86" r="2.4" fill="#EE8426"/>
<circle cx="162.45" cy="410.72" r="2.4" fill="#EE8426"/>
<circle cx="164.02" cy="411.29" r="2.4" fill="#EE8426"/>
<circle cx="165.58" cy="410.12" r="2.4" fill="#EE8426"/>
<circle cx="167.15" cy="410.19" r="2.4" fill="#EE8426"/>
<circle cx="168.72" cy="409.11" r="2.4" fill="#EE8426"/>
<circle cx="170.28" cy="409.98" r="2.4" fill="#EE8426"/>
<circle cx="171.85" cy="409.65" r="2.4" fill="#EE8426"/>
<circle cx="173.42" cy="410.03" r="2.4" fill="#EE8426"/>
<circle cx="174.98" cy="409.59" r="2.4" fill="#EE8426"/>
<circle cx="176.55" cy="410.14" r="2.4" fill="#EE8426"/>
<circle cx="178.12" cy="410.62" r="2.4" fill="#EE8426"/>
<circle cx="179.68" cy="408.69" r="2.4" fill="#EE8426"/>
<circle cx="181.25" cy="408.69" r="2.4" fill="#EE8426"/>
<circle cx="182.82" cy="409.11" r="2.4" fill="#EE8426"/>
<circle cx="184.38" cy="409.47" r="2.4" fill="#EE8426"/>
<circle cx="185.95" cy="410.52" r="2.4" fill="#EE8426"/>
<circle cx="187.52" cy="410.76" r="2.4" fill="#EE8426"/>
<circle cx="189.09" cy="410.6" r="2.4" fill="#EE8426"/>
<circle cx="190.65" cy="411.18" r="2.4" fill="#EE8426"/>
<circle cx="192.22" cy="409.31" r="2.4" fill="#EE8426"/>
<circle cx="193.79" cy="410.3" r="2.4" fill="#EE8426"/>
<circle cx="195.35" cy="409.09" r="2.4" fill="#EE8426"/>
<circle cx="196.92" cy="410.33" r="2.4" fill="#EE8426"/>
<circle cx="198.49" cy="408.79" r="2.4" fill="#EE8426"/>
<circle cx="200.05" cy="409.09" r="2.4" fill="#EE8426"/>
<circle cx="201.62" cy="411.37" r="2.4" fill="#EE8426"/>
<circle cx="203.19" cy="410.81" r="2.4" fill="#EE8426"/>
<circle cx="136.33" cy="407.93" r="2.6" fill="#EE8426"/>
<circle cx="141.56" cy="408.38" r="2.6" fill="#EE8426"/>
<circle cx="159.84" cy="408.53" r="2.6" fill="#EE8426"/>
<circle cx="172.89" cy="408.83" r="2.6" fill="#EE8426"/>
<circle cx="149.39" cy="411.97" r="2.6" fill="#EE8426"/>
<circle cx="183.34" cy="411.67" r="2.6" fill="#EE8426"/>
<polyline points="37.1,454.12 38.01,453.3 38.93,452.88 39.84,452.49 40.76,452.22 41.67,452.25 42.58,452.17 43.5,451.92 44.41,451.78 45.33,451.79 46.24,451.93 47.15,451.84 48.07,451.63 48.98,451.65 49.9,451.59 50.81,451.57 51.72,451.79 52.64,451.59 53.55,451.71 54.47,451.67 55.38,451.6 56.29,451.76 57.21,451.59 58.12,451.75 59.04,451.59 59.95,451.69 60.86,451.64 61.78,451.67 62.69,451.89 63.61,451.85 64.52,451.71 65.43,451.89 66.35,451.7 67.26,451.77 68.18,451.91 69.09,451.86 70,451.7 70.92,451.98 71.83,451.75 72.75,451.76 73.66,451.92 74.57,451.79 75.49,451.77 76.4,451.7 77.32,451.7 78.23,451.84 79.14,451.72 80.06,451.81 80.97,451.73 81.89,451.73 82.8,451.85 83.71,451.67 84.63,451.65 85.54,451.68 86.46,451.41 87.37,451.34 88.28,451.49 89.2,451.39 90.11,451.14 91.03,451.05 91.94,451.13 92.85,451.11 93.77,450.81 94.68,450.96 95.6,450.87 96.51,450.72 97.42,450.6 98.34,450.45 99.25,450.38 100.17,450.61 101.08,450.36 101.99,450.48 102.91,450.33 103.82,450.48 104.74,450.4 105.65,450.3 106.56,450.25 107.48,450.4 108.39,450.2 109.31,450.24 110.22,450.33 111.13,450.41 112.05,450.34 112.96,450.23 113.88,450.42 114.79,450.2 115.7,450.15 116.62,450.22 117.53,450.27 118.45,450.16 119.36,450.19 120.27,450.25 121.19,450.32 122.1,450.19 123.02,450.26 123.93,450.42 124.84,450.45 125.76,450.36 126.67,450.37 127.59,450.35 128.5,450.22 129.41,450.19 130.33,450.2 131.24,450.47 132.16,450.41 133.07,450.5 133.98,450.23 134.9,450.42 135.81,450.38 136.73,450.46 137.64,450.34 138.55,450.56 139.47,450.29 140.38,450.44 141.3,450.5 142.21,450.56 143.12,450.52 144.04,450.51 144.95,450.55 145.87,450.59 146.78,450.43 147.69,450.54 148.61,450.61 149.52,450.6 150.44,450.47 151.35,450.59 152.26,450.62 153.18,450.54 154.09,450.55 155.01,450.49 155.92,450.55 156.83,450.56 157.75,450.41 158.66,450.58 159.58,450.69 160.49,450.66 161.4,450.62 162.32,450.52 163.23,450.63 164.15,450.58 165.06,450.55 165.97,450.67 166.89,450.45 167.8,450.65 168.72,450.44 169.63,450.62 170.54,450.58 171.46,450.51 172.37,450.66 173.29,450.6 174.2,450.64 175.11,450.74 176.03,450.54 176.94,450.48 177.86,450.57 178.77,450.68 179.68,450.55 180.6,450.54 181.51,450.77 182.43,450.7 183.34,450.64 184.25,450.78 185.17,450.61 186.08,450.72 187,450.58 187.91,450.66 188.82,450.78 189.74,450.81 190.65,450.81 191.57,450.67 192.48,450.73 193.39,450.66 194.31,450.61 195.22,450.72 196.14,450.83 197.05,450.84 197.96,450.8 198.88,450.88 199.79,450.68 200.71,450.65 201.62,450.74 202.53,450.69 203.45,450.68 204.36,450.75 205.28,450.81 206.19,450.78 207.1,450.73 208.02,450.89 208.93,450.94 209.85,450.79 210.76,450.68 211.67,450.67 212.59,450.93 213.5,450.68 214.42,450.89 215.33,450.85 216.24,450.78 217.16,450.93 218.07,450.7 218.99,450.74 219.9,450.84" fill="none" stroke="#EE8426" stroke-width="5.6" stroke-linecap="round" stroke-linejoin="round" />
<polyline points="37.1,474.37 38.01,474.7 38.93,474.46 39.84,474.42 40.76,474.38 41.67,474.61 42.58,474.54 43.5,474.62 44.41,474.63 45.33,474.69 46.24,474.75 47.15,474.64 48.07,474.44 48.98,474.55 49.9,474.43 50.81,474.37 51.72,474.55 52.64,474.65 53.55,474.43 54.47,474.47 55.38,474.5 56.29,474.64 57.21,474.57 58.12,474.61 59.04,474.67 59.95,474.52 60.86,474.68 61.78,474.73 62.69,474.4 63.61,474.74 64.52,474.65 65.43,474.42 66.35,474.54 67.26,474.61 68.18,474.73 69.09,474.51 70,474.59 70.92,474.71 71.83,474.68 72.75,474.74 73.66,474.55 74.57,474.62 75.49,474.45 76.4,474.65 77.32,474.69 78.23,474.62 79.14,474.65 80.06,474.45 80.97,474.72 81.89,474.76 82.8,474.75 83.71,474.58 84.63,474.68 85.54,474.49 86.46,474.73 87.37,474.71 88.28,474.5 89.2,474.4 90.11,474.54 91.03,474.58 91.94,474.67 92.85,474.56 93.77,474.37 94.68,474.69 95.6,474.39 96.51,474.68 97.42,474.43 98.34,474.5 99.25,474.68 100.17,474.42 101.08,474.42 101.99,474.57 102.91,474.65 103.82,474.7 104.74,474.64 105.65,474.74 106.56,474.56 107.48,474.74 108.39,474.4 109.31,474.45 110.22,474.57 111.13,474.48 112.05,474.65 112.96,474.62 113.88,474.57 114.79,474.7 115.7,474.59 116.62,474.49 117.53,474.52 118.45,474.7 119.36,474.72 120.27,474.45 121.19,474.7 122.1,474.75 123.02,474.57 123.93,474.59 124.84,474.44 125.76,474.58 126.67,474.56 127.59,474.61 128.5,474.37 129.41,474.75 130.33,474.57 131.24,474.52 132.16,474.68 133.07,474.59 133.98,474.56 134.9,474.64 135.81,474.39 136.73,474.58 137.64,474.53 138.55,474.75 139.47,474.73 140.38,474.47 141.3,474.55 142.21,474.41 143.12,474.54 144.04,474.69 144.95,474.72 145.87,474.55 146.78,474.49 147.69,474.44 148.61,474.61 149.52,474.73 150.44,474.41 151.35,474.67 152.26,474.37 153.18,474.44 154.09,474.45 155.01,474.64 155.92,474.49 156.83,474.51 157.75,474.61 158.66,474.41 159.58,474.66 160.49,474.41 161.4,474.57 162.32,474.46 163.23,474.44 164.15,474.58 165.06,474.54 165.97,474.51 166.89,474.53 167.8,474.57 168.72,474.43 169.63,474.44 170.54,474.62 171.46,474.62 172.37,474.58 173.29,474.7 174.2,474.61 175.11,474.71 176.03,474.46 176.94,474.66 177.86,474.69 178.77,474.72 179.68,474.49 180.6,474.49 181.51,474.73 182.43,474.45 183.34,474.76 184.25,474.72 185.17,474.42 186.08,474.46 187,474.65 187.91,474.47 188.82,474.4 189.74,474.7 190.65,474.53 191.57,474.68 192.48,474.41 193.39,474.52 194.31,474.64 195.22,474.37 196.14,474.44 197.05,474.64 197.96,474.73 198.88,474.75 199.79,474.41 200.71,474.57 201.62,474.67 202.53,474.56 203.45,474.64 204.36,474.44 205.28,474.39 206.19,474.41 207.1,474.38 208.02,474.58 208.93,474.57 209.85,474.59 210.76,474.42 211.67,474.44 212.59,474.44 213.5,474.7 214.42,474.76 215.33,474.73 216.24,474.4 217.16,474.39 218.07,474.74 218.99,474.55 219.9,474.67" fill="none" stroke="#EE8426" stroke-width="5.6" stroke-linecap="round" stroke-linejoin="round" />
<polyline points="37.1,513.44 38.01,513.48 38.93,513.49 39.84,513.46 40.76,513.5 41.67,513.32 42.58,513.53 43.5,513.56 44.41,513.36 45.33,513.44 46.24,513.52 47.15,513.42 48.07,513.35 48.98,513.34 49.9,513.44 50.81,513.28 51.72,513.54 52.64,513.51 53.55,513.48 54.47,513.52 55.38,513.45 56.29,513.38 57.21,513.43 58.12,513.4 59.04,513.54 59.95,513.48 60.86,513.32 61.78,513.51 62.69,513.45 63.61,513.46 64.52,513.47 65.43,513.34 66.35,513.48 67.26,513.47 68.18,513.42 69.09,513.43 70,513.43 70.92,513.32 71.83,513.41 72.75,513.21 73.66,513.29 74.57,513.32 75.49,513.18 76.4,513.28 77.32,513.36 78.23,513.35 79.14,513.23 80.06,513.44 80.97,513.35 81.89,513.25 82.8,513.34 83.71,513.31 84.63,513.3 85.54,513.25 86.46,513.43 87.37,513.32 88.28,513.33 89.2,513.34 90.11,513.41 91.03,513.11 91.94,513.29 92.85,513.32 93.77,513.17 94.68,513.21 95.6,513.1 96.51,513.14 97.42,513.19 98.34,513.1 99.25,513.14 100.17,513.34 101.08,513.22 101.99,513.21 102.91,513.34 103.82,513.22 104.74,513.34 105.65,513.23 106.56,513.27 107.48,513.05 108.39,513.2 109.31,513.24 110.22,513.02 111.13,513.28 112.05,513.05 112.96,513.14 113.88,513.04 114.79,513.13 115.7,513.16 116.62,512.99 117.53,513.25 118.45,513.09 119.36,513.12 120.27,513.13 121.19,513.06 122.1,513.03 123.02,513.13 123.93,513.1 124.84,513.01 125.76,513.13 126.67,513 127.59,512.91 128.5,512.97 129.41,512.91 130.33,512.94 131.24,513.11 132.16,512.99 133.07,513.14 133.98,513.09 134.9,512.87 135.81,513.15 136.73,513.13 137.64,512.86 138.55,513.11 139.47,512.96 140.38,512.97 141.3,513.11 142.21,512.88 143.12,512.96 144.04,513.08 144.95,513.01 145.87,512.93 146.78,513.07 147.69,513.02 148.61,512.95 149.52,512.8 150.44,512.94 151.35,512.89 152.26,512.8 153.18,512.75 154.09,512.89 155.01,512.76 155.92,512.85 156.83,512.91 157.75,512.84 158.66,512.78 159.58,512.87 160.49,512.81 161.4,512.91 162.32,512.83 163.23,512.97 164.15,512.95 165.06,512.87 165.97,512.72 166.89,512.67 167.8,512.9 168.72,512.86 169.63,512.81 170.54,512.72 171.46,512.69 172.37,512.81 173.29,512.76 174.2,512.77 175.11,512.77 176.03,512.8 176.94,512.63 177.86,512.64 178.77,512.85 179.68,512.82 180.6,512.81 181.51,512.55 182.43,512.55 183.34,512.6 184.25,512.64 185.17,512.7 186.08,512.53 187,512.66 187.91,512.51 188.82,512.51 189.74,512.68 190.65,512.64 191.57,512.65 192.48,512.57 193.39,512.59 194.31,512.51 195.22,512.54 196.14,512.65 197.05,512.68 197.96,512.44 198.88,512.45 199.79,512.65 200.71,512.58 201.62,512.62 202.53,512.45 203.45,512.51 204.36,512.45 205.28,512.61 206.19,512.47 207.1,512.55 208.02,512.64 208.93,512.44 209.85,512.5 210.76,512.55 211.67,512.6 212.59,512.44 213.5,512.42 214.42,512.33 215.33,512.56 216.24,512.31 217.16,512.31 218.07,512.44 218.99,512.41 219.9,512.47" fill="none" stroke="#EE8426" stroke-width="5.6" stroke-linecap="round" stroke-linejoin="round" />
</g>
<rect x="37.1" y="402.4" width="182.8" height="67.3" fill="none" stroke="#383838" stroke-width="1.15"/>
<rect x="37.1" y="469.7" width="182.8" height="67.3" fill="none" stroke="#383838" stroke-width="1.15"/>
<line x1="32.6" y1="402.4" x2="37.1" y2="402.4" stroke="#383838" stroke-width="1.1"/>
<line x1="37.1" y1="402.4" x2="37.1" y2="397.9" stroke="#383838" stroke-width="1.1"/>
<text transform="translate(37.1,394.9) scale(0.95,1)" font-size="9.87" text-anchor="middle" fill="#1a1a1a" >0</text>
<line x1="96.3" y1="402.4" x2="96.3" y2="397.9" stroke="#383838" stroke-width="1.1"/>
<text transform="translate(96.3,394.9) scale(0.95,1)" font-size="9.87" text-anchor="middle" fill="#1a1a1a" >300</text>
<line x1="155.5" y1="402.4" x2="155.5" y2="397.9" stroke="#383838" stroke-width="1.1"/>
<text transform="translate(155.5,394.9) scale(0.95,1)" font-size="9.87" text-anchor="middle" fill="#1a1a1a" >600</text>
<line x1="214.7" y1="402.4" x2="214.7" y2="397.9" stroke="#383838" stroke-width="1.1"/>
<text transform="translate(214.7,394.9) scale(0.95,1)" font-size="9.87" text-anchor="middle" fill="#1a1a1a" >900</text>
<line x1="66.7" y1="402.4" x2="66.7" y2="399.9" stroke="#383838" stroke-width="1.1"/>
<line x1="125.9" y1="402.4" x2="125.9" y2="399.9" stroke="#383838" stroke-width="1.1"/>
<line x1="185.1" y1="402.4" x2="185.1" y2="399.9" stroke="#383838" stroke-width="1.1"/>
<line x1="37.1" y1="537" x2="37.1" y2="541.5" stroke="#383838" stroke-width="1.1"/>
<text transform="translate(37.1,552) scale(0.95,1)" font-size="9.87" text-anchor="middle" fill="#1a1a1a" >0</text>
<line x1="63.21" y1="537" x2="63.21" y2="541.5" stroke="#383838" stroke-width="1.1"/>
<text transform="translate(63.21,552) scale(0.95,1)" font-size="9.87" text-anchor="middle" fill="#1a1a1a" >100</text>
<line x1="89.33" y1="537" x2="89.33" y2="541.5" stroke="#383838" stroke-width="1.1"/>
<text transform="translate(89.33,552) scale(0.95,1)" font-size="9.87" text-anchor="middle" fill="#1a1a1a" >200</text>
<line x1="115.44" y1="537" x2="115.44" y2="541.5" stroke="#383838" stroke-width="1.1"/>
<text transform="translate(115.44,552) scale(0.95,1)" font-size="9.87" text-anchor="middle" fill="#1a1a1a" >300</text>
<line x1="141.56" y1="537" x2="141.56" y2="541.5" stroke="#383838" stroke-width="1.1"/>
<text transform="translate(141.56,552) scale(0.95,1)" font-size="9.87" text-anchor="middle" fill="#1a1a1a" >400</text>
<line x1="167.67" y1="537" x2="167.67" y2="541.5" stroke="#383838" stroke-width="1.1"/>
<text transform="translate(167.67,552) scale(0.95,1)" font-size="9.87" text-anchor="middle" fill="#1a1a1a" >500</text>
<line x1="193.79" y1="537" x2="193.79" y2="541.5" stroke="#383838" stroke-width="1.1"/>
<text transform="translate(193.79,552) scale(0.95,1)" font-size="9.87" text-anchor="middle" fill="#1a1a1a" >600</text>
<line x1="219.9" y1="537" x2="219.9" y2="541.5" stroke="#383838" stroke-width="1.1"/>
<text transform="translate(219.9,552) scale(0.95,1)" font-size="9.87" text-anchor="middle" fill="#1a1a1a" >700</text>
<line x1="50.16" y1="537" x2="50.16" y2="539.5" stroke="#383838" stroke-width="1.1"/>
<line x1="76.27" y1="537" x2="76.27" y2="539.5" stroke="#383838" stroke-width="1.1"/>
<line x1="102.39" y1="537" x2="102.39" y2="539.5" stroke="#383838" stroke-width="1.1"/>
<line x1="128.5" y1="537" x2="128.5" y2="539.5" stroke="#383838" stroke-width="1.1"/>
<line x1="154.61" y1="537" x2="154.61" y2="539.5" stroke="#383838" stroke-width="1.1"/>
<line x1="180.73" y1="537" x2="180.73" y2="539.5" stroke="#383838" stroke-width="1.1"/>
<line x1="206.84" y1="537" x2="206.84" y2="539.5" stroke="#383838" stroke-width="1.1"/>
<line x1="32.6" y1="458.48" x2="37.1" y2="458.48" stroke="#383838" stroke-width="1.1"/>
<text transform="translate(29,461.83) scale(0.95,1)" font-size="9.87" text-anchor="end" fill="#1a1a1a" >10</text>
<line x1="32.6" y1="447.27" x2="37.1" y2="447.27" stroke="#383838" stroke-width="1.1"/>
<text transform="translate(29,450.62) scale(0.95,1)" font-size="9.87" text-anchor="end" fill="#1a1a1a" >20</text>
<line x1="32.6" y1="436.05" x2="37.1" y2="436.05" stroke="#383838" stroke-width="1.1"/>
<text transform="translate(29,439.4) scale(0.95,1)" font-size="9.87" text-anchor="end" fill="#1a1a1a" >30</text>
<line x1="32.6" y1="424.83" x2="37.1" y2="424.83" stroke="#383838" stroke-width="1.1"/>
<text transform="translate(29,428.18) scale(0.95,1)" font-size="9.87" text-anchor="end" fill="#1a1a1a" >40</text>
<line x1="32.6" y1="413.62" x2="37.1" y2="413.62" stroke="#383838" stroke-width="1.1"/>
<text transform="translate(29,416.97) scale(0.95,1)" font-size="9.87" text-anchor="end" fill="#1a1a1a" >50</text>
<line x1="32.6" y1="402.4" x2="37.1" y2="402.4" stroke="#383838" stroke-width="1.1"/>
<text transform="translate(29,405.75) scale(0.95,1)" font-size="9.87" text-anchor="end" fill="#1a1a1a" >60</text>
<line x1="34.6" y1="464.09" x2="37.1" y2="464.09" stroke="#383838" stroke-width="1.1"/>
<line x1="34.6" y1="452.88" x2="37.1" y2="452.88" stroke="#383838" stroke-width="1.1"/>
<line x1="34.6" y1="441.66" x2="37.1" y2="441.66" stroke="#383838" stroke-width="1.1"/>
<line x1="34.6" y1="430.44" x2="37.1" y2="430.44" stroke="#383838" stroke-width="1.1"/>
<line x1="34.6" y1="419.22" x2="37.1" y2="419.22" stroke="#383838" stroke-width="1.1"/>
<line x1="34.6" y1="408.01" x2="37.1" y2="408.01" stroke="#383838" stroke-width="1.1"/>
<line x1="32.6" y1="537" x2="37.1" y2="537" stroke="#383838" stroke-width="1.1"/>
<text transform="translate(29,540.35) scale(0.95,1)" font-size="9.87" text-anchor="end" fill="#1a1a1a" >0</text>
<line x1="32.6" y1="523.54" x2="37.1" y2="523.54" stroke="#383838" stroke-width="1.1"/>
<text transform="translate(29,526.89) scale(0.95,1)" font-size="9.87" text-anchor="end" fill="#1a1a1a" >30</text>
<line x1="32.6" y1="510.08" x2="37.1" y2="510.08" stroke="#383838" stroke-width="1.1"/>
<text transform="translate(29,513.43) scale(0.95,1)" font-size="9.87" text-anchor="end" fill="#1a1a1a" >60</text>
<line x1="32.6" y1="496.62" x2="37.1" y2="496.62" stroke="#383838" stroke-width="1.1"/>
<text transform="translate(29,499.97) scale(0.95,1)" font-size="9.87" text-anchor="end" fill="#1a1a1a" >90</text>
<line x1="32.6" y1="483.16" x2="37.1" y2="483.16" stroke="#383838" stroke-width="1.1"/>
<text transform="translate(29,486.51) scale(0.95,1)" font-size="9.87" text-anchor="end" fill="#1a1a1a" >120</text>
<line x1="32.6" y1="469.7" x2="37.1" y2="469.7" stroke="#383838" stroke-width="1.1"/>
<text transform="translate(29,473.05) scale(0.95,1)" font-size="9.87" text-anchor="end" fill="#1a1a1a" >150</text>
<line x1="34.6" y1="530.27" x2="37.1" y2="530.27" stroke="#383838" stroke-width="1.1"/>
<line x1="34.6" y1="516.81" x2="37.1" y2="516.81" stroke="#383838" stroke-width="1.1"/>
<line x1="34.6" y1="503.35" x2="37.1" y2="503.35" stroke="#383838" stroke-width="1.1"/>
<line x1="34.6" y1="489.89" x2="37.1" y2="489.89" stroke="#383838" stroke-width="1.1"/>
<line x1="34.6" y1="476.43" x2="37.1" y2="476.43" stroke="#383838" stroke-width="1.1"/>
<line x1="219.9" y1="454.74" x2="224.4" y2="454.74" stroke="#383838" stroke-width="1.1"/>
<text transform="translate(227.7,458.09) scale(0.95,1)" font-size="9.87" text-anchor="start" fill="#1a1a1a" >70</text>
<line x1="219.9" y1="439.79" x2="224.4" y2="439.79" stroke="#383838" stroke-width="1.1"/>
<text transform="translate(227.7,443.14) scale(0.95,1)" font-size="9.87" text-anchor="start" fill="#1a1a1a" >80</text>
<line x1="219.9" y1="424.83" x2="224.4" y2="424.83" stroke="#383838" stroke-width="1.1"/>
<text transform="translate(227.7,428.18) scale(0.95,1)" font-size="9.87" text-anchor="start" fill="#1a1a1a" >90</text>
<line x1="219.9" y1="409.88" x2="224.4" y2="409.88" stroke="#383838" stroke-width="1.1"/>
<text transform="translate(227.7,413.23) scale(0.95,1)" font-size="9.87" text-anchor="start" fill="#1a1a1a" >100</text>
<line x1="219.9" y1="462.22" x2="222.4" y2="462.22" stroke="#383838" stroke-width="1.1"/>
<line x1="219.9" y1="447.27" x2="222.4" y2="447.27" stroke="#383838" stroke-width="1.1"/>
<line x1="219.9" y1="432.31" x2="222.4" y2="432.31" stroke="#383838" stroke-width="1.1"/>
<line x1="219.9" y1="417.36" x2="222.4" y2="417.36" stroke="#383838" stroke-width="1.1"/>
<line x1="219.9" y1="402.4" x2="222.4" y2="402.4" stroke="#383838" stroke-width="1.1"/>
<line x1="219.9" y1="469.7" x2="224.4" y2="469.7" stroke="#383838" stroke-width="1.1"/>
<line x1="219.9" y1="537" x2="224.4" y2="537" stroke="#383838" stroke-width="1.1"/>
<text transform="translate(227.7,540.35) scale(0.95,1)" font-size="9.87" text-anchor="start" fill="#1a1a1a" >60</text>
<line x1="219.9" y1="521.31" x2="224.4" y2="521.31" stroke="#383838" stroke-width="1.1"/>
<text transform="translate(227.7,524.66) scale(0.95,1)" font-size="9.87" text-anchor="start" fill="#1a1a1a" >70</text>
<line x1="219.9" y1="505.62" x2="224.4" y2="505.62" stroke="#383838" stroke-width="1.1"/>
<text transform="translate(227.7,508.97) scale(0.95,1)" font-size="9.87" text-anchor="start" fill="#1a1a1a" >80</text>
<line x1="219.9" y1="489.94" x2="224.4" y2="489.94" stroke="#383838" stroke-width="1.1"/>
<text transform="translate(227.7,493.29) scale(0.95,1)" font-size="9.87" text-anchor="start" fill="#1a1a1a" >90</text>
<line x1="219.9" y1="474.25" x2="224.4" y2="474.25" stroke="#383838" stroke-width="1.1"/>
<text transform="translate(227.7,477.6) scale(0.95,1)" font-size="9.87" text-anchor="start" fill="#1a1a1a" >100</text>
<line x1="219.9" y1="529.16" x2="222.4" y2="529.16" stroke="#383838" stroke-width="1.1"/>
<line x1="219.9" y1="513.47" x2="222.4" y2="513.47" stroke="#383838" stroke-width="1.1"/>
<line x1="219.9" y1="497.78" x2="222.4" y2="497.78" stroke="#383838" stroke-width="1.1"/>
<line x1="219.9" y1="482.09" x2="222.4" y2="482.09" stroke="#383838" stroke-width="1.1"/>
<text transform="translate(9.7,472.4) rotate(-90) scale(0.95,1)" font-size="9.97" text-anchor="middle" fill="#1a1a1a">Gravimetric capacity (mAh g<tspan font-size="6.5" dy="-3.2">-1</tspan><tspan dy="3.2">)</tspan></text>
<text transform="translate(253.9,467.4) rotate(-90) scale(0.95,1)" font-size="9.97" text-anchor="middle" fill="#1a1a1a">Coulombic efficiency (%)</text>
<circle cx="50.9" cy="420.5" r="6.0" fill="#3A80E8" stroke="#2a2a40" stroke-width="0.7"/>
<circle cx="48.6" cy="419.5" r="0.75" fill="#152040"/><circle cx="52.6" cy="419.5" r="0.75" fill="#152040"/>
<path d="M47.5,418.1 q0.8,-1.2 1.8,-1.3 M52.2,417.4 q1.3,0 2.0,1.0" stroke="#203060" stroke-width="0.5" fill="none"/>
<path d="M48.1,423.4 q2.8,0.4 5.6,-1.1" stroke="#152040" stroke-width="0.8" fill="none"/>
<circle cx="53.4" cy="423.7" r="0.7" fill="#4FB8F0"/>
<circle cx="51.3" cy="486" r="6.0" fill="#E83A40" stroke="#2a2a40" stroke-width="0.7"/>
<circle cx="48.5" cy="485.4" r="0.7" fill="#401010"/><circle cx="53.1" cy="485.1" r="0.7" fill="#401010"/>
<path d="M47.3,483.4 l1.2,-0.9 M53.1,482.7 l1.3,0.4" stroke="#501818" stroke-width="0.5" fill="none"/>
<ellipse cx="51" cy="488.4" rx="1.7" ry="1.4" fill="#E848B0" stroke="#802040" stroke-width="0.4"/>
<ellipse cx="46.4" cy="488.7" rx="0.9" ry="1.3" fill="#2F80D8"/>
<text transform="translate(61.1,423.1) scale(0.95,1)" font-size="9.87" text-anchor="start" fill="#1a1a1a" >-10 °C</text>
<text transform="translate(65.8,488.9) scale(0.95,1)" font-size="9.87" text-anchor="start" fill="#1a1a1a" >60 °C</text>
<circle cx="145.7" cy="422.8" r="2.5" fill="#EE8426"/>
<text transform="translate(152.2,425.6) scale(0.95,1)" font-size="10.19" text-anchor="start" fill="#1a1a1a" >ZnSO<tspan font-size="9.2" dy="0.9">4</tspan><tspan dy="-0.9">/FU</tspan></text>
<text transform="translate(115.4,439.3) scale(0.95,1)" font-size="10.19" text-anchor="start" fill="#1a1a1a" >0.5 A g<tspan font-size="6.5" dy="-3.2">-1</tspan><tspan dy="3.2"></tspan></text>
<text transform="translate(116,505.1) scale(0.95,1)" font-size="9.87" text-anchor="start" fill="#1a1a1a" >1 A g<tspan font-size="6.5" dy="-3.2">-1</tspan><tspan dy="3.2"></tspan></text>
<text transform="translate(110.3,530.2) scale(0.95,1)" font-size="10.08" text-anchor="start" fill="#1a1a1a" >Zn-predeposited Cu||AC</text>
<polyline points="48.3,437.6 55.9,437.6 55.9,445.3" fill="none" stroke="#383838" stroke-width="1.05"/>
<polygon points="41.8,437.6 49.3,436.15 49.3,439.05" fill="#111"/>
<polyline points="202.6,417.2 202.6,425.4 210.4,425.4" fill="none" stroke="#383838" stroke-width="1.05"/>
<polygon points="215.9,425.4 209.4,424.05 209.4,426.75" fill="#111"/>
<polyline points="48.3,499.4 55.6,499.4 55.6,507.5" fill="none" stroke="#383838" stroke-width="1.05"/>
<polygon points="41.8,499.4 49.3,497.95 49.3,500.85" fill="#111"/>
<polyline points="202.9,486 202.9,492.9 211.1,492.9" fill="none" stroke="#383838" stroke-width="1.05"/>
<polygon points="216.6,492.9 210.1,491.55 210.1,494.25" fill="#111"/>
<text transform="translate(-0.5,395.8) scale(1,1)" font-size="18.2" text-anchor="start" fill="#1a1a1a" style="stroke-width:0.35px">e</text>
<text transform="translate(263.8,394.8) scale(1,1)" font-size="18.2" text-anchor="start" fill="#1a1a1a" style="stroke-width:0.35px">f</text>
<defs>
<linearGradient id="zn1" x1="0" y1="-16.5" x2="0" y2="16.5" gradientUnits="userSpaceOnUse"><stop offset="0" stop-color="#555"/><stop offset="0.45" stop-color="#9a9a9a"/><stop offset="0.7" stop-color="#f2f2f2"/><stop offset="1" stop-color="#888"/></linearGradient>
<linearGradient id="el1" x1="0" y1="-16.5" x2="0" y2="16.5" gradientUnits="userSpaceOnUse"><stop offset="0" stop-color="#5EC0CC"/><stop offset="0.25" stop-color="#BFE6EA"/><stop offset="0.55" stop-color="#ECE4EA"/><stop offset="0.85" stop-color="#D0F4F8"/><stop offset="1" stop-color="#80DCE6"/></linearGradient>
<radialGradient id="fd1" cx="0.5" cy="0.5" r="0.5"><stop offset="0" stop-color="#7A4A80"/><stop offset="0.55" stop-color="#5A6098"/><stop offset="1" stop-color="#4A6AA8"/></radialGradient>
</defs>
<g transform="translate(277.6,446) rotate(29.86)">
<path d="M1.72,-15.35 L49.81,-15.35 M1.72,15.35 L49.81,15.35" stroke="#8a8a8a" stroke-width="0.55" fill="none"/>
<ellipse cx="0" cy="0" rx="8.58" ry="16.5" fill="#5448C0" stroke="#3A2E9A" stroke-width="0.6"/>
<ellipse cx="1.72" cy="0" rx="6.69" ry="13.2" fill="#777"/>
<rect x="1.72" y="-13.2" width="9.96" height="26.4" fill="url(#zn1)"/>
<rect x="9.96" y="-12.87" width="30.88" height="25.74" fill="url(#el1)"/>
<ellipse cx="9.96" cy="0" rx="6.44" ry="12.87" fill="#C4E4E8"/>
<path d="M9.96,-12.87 L40.85,-12.87" stroke="#3A9AAA" stroke-width="0.6"/>
<rect x="41.34" y="-14.85" width="8.47" height="29.7" fill="#3A3A3A"/>
<ellipse cx="41.34" cy="0" rx="9.24" ry="14.85" fill="#4a4a4a"/>
<ellipse cx="49.81" cy="0" rx="10.23" ry="16.5" fill="url(#fd1)" stroke="#2A4A98" stroke-width="0.9"/>
<path d="M48.1,-16.17 a8.58,16.5 0 0 1 1.72,0" stroke="#C03040" stroke-width="1" fill="none"/>
</g>
<g transform="translate(320.8,470.8)">
<path d="M-7,4.2 L-3,2.2" stroke="#A82A3A" stroke-width="2.6"/>
<path d="M-3,2.2 L7.5,-3.6" stroke="#3A6A52" stroke-width="2.8"/>
<path d="M-0.4,-6.8 L1.4,7.8" stroke="#3A6A52" stroke-width="3.0"/>
<path d="M-0.4,-6.8 L-0.1,-4.6" stroke="#A82A3A" stroke-width="3.0"/>
</g>
<defs>
<linearGradient id="zn2" x1="0" y1="-16.5" x2="0" y2="16.5" gradientUnits="userSpaceOnUse"><stop offset="0" stop-color="#555"/><stop offset="0.45" stop-color="#9a9a9a"/><stop offset="0.7" stop-color="#f2f2f2"/><stop offset="1" stop-color="#888"/></linearGradient>
<linearGradient id="el2" x1="0" y1="-16.5" x2="0" y2="16.5" gradientUnits="userSpaceOnUse"><stop offset="0" stop-color="#5EC0CC"/><stop offset="0.25" stop-color="#BFE6EA"/><stop offset="0.55" stop-color="#ECE4EA"/><stop offset="0.85" stop-color="#D0F4F8"/><stop offset="1" stop-color="#80DCE6"/></linearGradient>
<radialGradient id="fd2" cx="0.5" cy="0.5" r="0.5"><stop offset="0" stop-color="#7A4A80"/><stop offset="0.55" stop-color="#5A6098"/><stop offset="1" stop-color="#4A6AA8"/></radialGradient>
</defs>
<g transform="translate(389.2,453.8) rotate(26.44)">
<path d="M1.72,-15.35 L39.53,-15.35 M1.72,15.35 L39.53,15.35" stroke="#8a8a8a" stroke-width="0.55" fill="none"/>
<ellipse cx="0" cy="0" rx="8.58" ry="16.5" fill="#5448C0" stroke="#3A2E9A" stroke-width="0.6"/>
<ellipse cx="0.86" cy="0" rx="6.86" ry="13.53" fill="#A0A8B8"/>
<rect x="0.86" y="-12.87" width="28.46" height="25.74" fill="url(#el2)"/>
<path d="M0.86,-12.87 L32.42,-12.87" stroke="#3A9AAA" stroke-width="0.6"/>
<ellipse cx="3" cy="0" rx="6.44" ry="13.2" fill="#DDE07A" opacity="0.85"/>
<ellipse cx="4.72" cy="-4.95" rx="3.43" ry="5.77" fill="#A8E0A0" opacity="0.6"/>
<rect x="32.81" y="-14.85" width="6.72" height="29.7" fill="#3A3A3A"/>
<ellipse cx="32.81" cy="0" rx="9.24" ry="14.85" fill="#4a4a4a"/>
<ellipse cx="39.53" cy="0" rx="10.23" ry="16.5" fill="url(#fd2)" stroke="#2A4A98" stroke-width="0.9"/>
<path d="M37.82,-16.17 a8.58,16.5 0 0 1 1.72,0" stroke="#C03040" stroke-width="1" fill="none"/>
</g>
<g transform="translate(424.6,471.4)">
<path d="M-7,4.2 L-3,2.2" stroke="#A82A3A" stroke-width="2.6"/>
<path d="M-3,2.2 L7.5,-3.6" stroke="#3A6A52" stroke-width="2.8"/>
<path d="M-0.4,-6.8 L1.4,7.8" stroke="#3A6A52" stroke-width="3.0"/>
<path d="M-0.4,-6.8 L-0.1,-4.6" stroke="#A82A3A" stroke-width="3.0"/>
</g>
<line x1="293.6" y1="437.5" x2="323.5" y2="437.5" stroke="#555" stroke-width="0.6"/>
<line x1="309.6" y1="452.8" x2="336.6" y2="452.8" stroke="#555" stroke-width="0.6"/>
<line x1="335" y1="463.4" x2="347.6" y2="463.4" stroke="#555" stroke-width="0.6"/>
<line x1="368.8" y1="444.7" x2="383" y2="444.7" stroke="#555" stroke-width="0.6"/>
<line x1="369.8" y1="452.8" x2="391.6" y2="452.8" stroke="#555" stroke-width="0.6"/>
<line x1="369.2" y1="463.6" x2="408.7" y2="463.6" stroke="#555" stroke-width="0.6"/>
<text transform="translate(324.8,440) scale(0.95,1)" font-size="7.14" text-anchor="start" fill="#1a1a1a" >Zn</text>
<text transform="translate(368.5,447.1) scale(0.95,1)" font-size="7.14" text-anchor="end" fill="#1a1a1a" >Current collector</text>
<text transform="translate(369.5,455.2) scale(0.95,1)" font-size="7.14" text-anchor="end" fill="#1a1a1a" >Electrolyte</text>
<text transform="translate(369.2,466) scale(0.95,1)" font-size="7.14" text-anchor="end" fill="#1a1a1a" >MnVO</text>
<text transform="translate(301.7,507.9) scale(0.95,1)" font-size="13.86" text-anchor="middle" fill="#1a1a1a" font-style="italic">Regular</text>
<text transform="translate(406.7,501.8) scale(0.95,1)" font-size="13.86" text-anchor="middle" fill="#1a1a1a" font-style="italic">Initially</text>
<text transform="translate(406.7,517.3) scale(0.95,1)" font-size="13.86" text-anchor="middle" fill="#1a1a1a" font-style="italic">Anodeless</text>
<defs><clipPath id="clipG"><rect x="479.6" y="400.8" width="170.69999999999993" height="136.40000000000003"/></clipPath></defs>
<g clip-path="url(#clipG)">
<circle cx="483.21" cy="433.44" r="2.7" fill="#EE8426"/>
<circle cx="485.04" cy="417.01" r="2.7" fill="#EE8426"/>
<circle cx="486.87" cy="417.53" r="2.7" fill="#EE8426"/>
<circle cx="488.7" cy="416.83" r="2.7" fill="#EE8426"/>
<circle cx="490.53" cy="416.77" r="2.7" fill="#EE8426"/>
<circle cx="492.36" cy="418.43" r="2.7" fill="#EE8426"/>
<circle cx="494.19" cy="418.58" r="2.7" fill="#EE8426"/>
<circle cx="496.02" cy="416.14" r="2.7" fill="#EE8426"/>
<circle cx="497.85" cy="417.85" r="2.7" fill="#EE8426"/>
<circle cx="499.67" cy="417.93" r="2.7" fill="#EE8426"/>
<circle cx="501.5" cy="415.67" r="2.7" fill="#EE8426"/>
<circle cx="503.33" cy="417.23" r="2.7" fill="#EE8426"/>
<circle cx="505.16" cy="416.14" r="2.7" fill="#EE8426"/>
<circle cx="506.99" cy="417.21" r="2.7" fill="#EE8426"/>
<circle cx="508.82" cy="416.73" r="2.7" fill="#EE8426"/>
<circle cx="510.65" cy="418.18" r="2.7" fill="#EE8426"/>
<circle cx="512.48" cy="416.74" r="2.7" fill="#EE8426"/>
<circle cx="514.31" cy="416.05" r="2.7" fill="#EE8426"/>
<circle cx="516.14" cy="417.07" r="2.7" fill="#EE8426"/>
<circle cx="517.97" cy="416.42" r="2.7" fill="#EE8426"/>
<circle cx="519.8" cy="416.63" r="2.7" fill="#EE8426"/>
<circle cx="521.63" cy="418.43" r="2.7" fill="#EE8426"/>
<circle cx="523.46" cy="416.37" r="2.7" fill="#EE8426"/>
<circle cx="525.29" cy="416.87" r="2.7" fill="#EE8426"/>
<circle cx="527.12" cy="417.73" r="2.7" fill="#EE8426"/>
<circle cx="528.95" cy="418.53" r="2.7" fill="#EE8426"/>
<circle cx="530.78" cy="416.06" r="2.7" fill="#EE8426"/>
<circle cx="532.61" cy="417.22" r="2.7" fill="#EE8426"/>
<circle cx="534.43" cy="416.49" r="2.7" fill="#EE8426"/>
<circle cx="536.26" cy="416.02" r="2.7" fill="#EE8426"/>
<circle cx="538.09" cy="416.51" r="2.7" fill="#EE8426"/>
<circle cx="539.92" cy="415.89" r="2.7" fill="#EE8426"/>
<circle cx="541.75" cy="417.45" r="2.7" fill="#EE8426"/>
<circle cx="543.58" cy="416.25" r="2.7" fill="#EE8426"/>
<circle cx="545.41" cy="417.3" r="2.7" fill="#EE8426"/>
<circle cx="547.24" cy="415.85" r="2.7" fill="#EE8426"/>
<circle cx="549.07" cy="416.02" r="2.7" fill="#EE8426"/>
<circle cx="550.9" cy="418.33" r="2.7" fill="#EE8426"/>
<circle cx="552.73" cy="418.22" r="2.7" fill="#EE8426"/>
<circle cx="554.56" cy="417.98" r="2.7" fill="#EE8426"/>
<circle cx="556.39" cy="415.76" r="2.7" fill="#EE8426"/>
<circle cx="558.22" cy="417.33" r="2.7" fill="#EE8426"/>
<circle cx="560.05" cy="416.76" r="2.7" fill="#EE8426"/>
<circle cx="561.88" cy="417.73" r="2.7" fill="#EE8426"/>
<circle cx="563.71" cy="417.12" r="2.7" fill="#EE8426"/>
<circle cx="565.54" cy="417.48" r="2.7" fill="#EE8426"/>
<circle cx="567.36" cy="417.58" r="2.7" fill="#EE8426"/>
<circle cx="569.19" cy="416.89" r="2.7" fill="#EE8426"/>
<circle cx="571.02" cy="416.89" r="2.7" fill="#EE8426"/>
<circle cx="572.85" cy="415.94" r="2.7" fill="#EE8426"/>
<circle cx="574.68" cy="416.6" r="2.7" fill="#EE8426"/>
<circle cx="576.51" cy="415.87" r="2.7" fill="#EE8426"/>
<circle cx="578.34" cy="416.08" r="2.7" fill="#EE8426"/>
<circle cx="580.17" cy="415.68" r="2.7" fill="#EE8426"/>
<circle cx="582" cy="416.63" r="2.7" fill="#EE8426"/>
<circle cx="583.83" cy="418.14" r="2.7" fill="#EE8426"/>
<circle cx="585.66" cy="416.07" r="2.7" fill="#EE8426"/>
<circle cx="587.49" cy="415.76" r="2.7" fill="#EE8426"/>
<circle cx="589.32" cy="415.94" r="2.7" fill="#EE8426"/>
<circle cx="591.15" cy="416.94" r="2.7" fill="#EE8426"/>
<circle cx="592.98" cy="413.88" r="2.7" fill="#EE8426"/>
<circle cx="594.81" cy="413.88" r="2.7" fill="#EE8426"/>
<circle cx="596.64" cy="416.16" r="2.7" fill="#EE8426"/>
<circle cx="598.47" cy="416.92" r="2.7" fill="#EE8426"/>
<circle cx="600.29" cy="417.78" r="2.7" fill="#EE8426"/>
<circle cx="602.12" cy="418.43" r="2.7" fill="#EE8426"/>
<circle cx="603.95" cy="416.09" r="2.7" fill="#EE8426"/>
<circle cx="605.78" cy="415.69" r="2.7" fill="#EE8426"/>
<circle cx="607.61" cy="418.36" r="2.7" fill="#EE8426"/>
<circle cx="609.44" cy="416.25" r="2.7" fill="#EE8426"/>
<circle cx="611.27" cy="417.41" r="2.7" fill="#EE8426"/>
<circle cx="613.1" cy="418.18" r="2.7" fill="#EE8426"/>
<circle cx="614.93" cy="417.75" r="2.7" fill="#EE8426"/>
<circle cx="616.76" cy="416.34" r="2.7" fill="#EE8426"/>
<circle cx="618.59" cy="416.03" r="2.7" fill="#EE8426"/>
<circle cx="620.42" cy="418.49" r="2.7" fill="#EE8426"/>
<circle cx="622.25" cy="416.8" r="2.7" fill="#EE8426"/>
<circle cx="624.08" cy="418.49" r="2.7" fill="#EE8426"/>
<circle cx="625.91" cy="416.49" r="2.7" fill="#EE8426"/>
<circle cx="627.74" cy="417.64" r="2.7" fill="#EE8426"/>
<circle cx="629.57" cy="416.01" r="2.7" fill="#EE8426"/>
<circle cx="631.4" cy="415.72" r="2.7" fill="#EE8426"/>
<circle cx="633.23" cy="417.12" r="2.7" fill="#EE8426"/>
<circle cx="635.05" cy="415.66" r="2.7" fill="#EE8426"/>
<circle cx="636.88" cy="417.7" r="2.7" fill="#EE8426"/>
<circle cx="638.71" cy="418.39" r="2.7" fill="#EE8426"/>
<circle cx="640.54" cy="416.84" r="2.7" fill="#EE8426"/>
<circle cx="642.37" cy="418.53" r="2.7" fill="#EE8426"/>
<circle cx="644.2" cy="418.04" r="2.7" fill="#EE8426"/>
<circle cx="646.03" cy="417.41" r="2.7" fill="#EE8426"/>
<circle cx="647.86" cy="416.81" r="2.7" fill="#EE8426"/>
<circle cx="649.69" cy="418.16" r="2.7" fill="#EE8426"/>
<circle cx="483.21" cy="423.07" r="2.6" fill="#3D8BD8"/>
<circle cx="484.43" cy="420.4" r="2.6" fill="#3D8BD8"/>
<circle cx="486.26" cy="419.22" r="2.6" fill="#3D8BD8"/>
<circle cx="488.7" cy="418.03" r="2.6" fill="#3D8BD8"/>
<circle cx="491.75" cy="417.73" r="2.6" fill="#3D8BD8"/>
<circle cx="494.8" cy="416.84" r="2.6" fill="#3D8BD8"/>
<circle cx="497.24" cy="416.25" r="2.6" fill="#3D8BD8"/>
<circle cx="499.07" cy="414.18" r="2.6" fill="#3D8BD8"/>
<circle cx="499.67" cy="410.62" r="2.6" fill="#3D8BD8"/>
<circle cx="500.28" cy="415.66" r="2.6" fill="#3D8BD8"/>
<circle cx="500.89" cy="417.14" r="2.6" fill="#3D8BD8"/>
<circle cx="483.21" cy="490.41" r="2.9" fill="#EE8426"/>
<circle cx="485.04" cy="488.98" r="2.9" fill="#EE8426"/>
<circle cx="486.87" cy="486.6" r="2.9" fill="#EE8426"/>
<circle cx="488.7" cy="488.5" r="2.9" fill="#EE8426"/>
<circle cx="490.53" cy="492.45" r="2.9" fill="#EE8426"/>
<circle cx="492.36" cy="492.49" r="2.9" fill="#EE8426"/>
<circle cx="494.19" cy="492.55" r="2.9" fill="#EE8426"/>
<circle cx="496.02" cy="491.6" r="2.9" fill="#EE8426"/>
<circle cx="497.85" cy="492.15" r="2.9" fill="#EE8426"/>
<circle cx="499.67" cy="493.49" r="2.9" fill="#EE8426"/>
<circle cx="501.5" cy="494.81" r="2.9" fill="#EE8426"/>
<circle cx="503.33" cy="497.61" r="2.9" fill="#EE8426"/>
<circle cx="505.16" cy="499.27" r="2.9" fill="#EE8426"/>
<circle cx="506.99" cy="501.12" r="3.4" fill="#EE8426"/>
<circle cx="510.04" cy="502.75" r="3.4" fill="#EE8426"/>
<circle cx="513.09" cy="504.06" r="3.4" fill="#EE8426"/>
<circle cx="516.14" cy="505.51" r="3.4" fill="#EE8426"/>
<circle cx="519.19" cy="506.21" r="3.4" fill="#EE8426"/>
<circle cx="522.24" cy="506.91" r="3.4" fill="#EE8426"/>
<circle cx="525.29" cy="507.09" r="3.4" fill="#EE8426"/>
<circle cx="528.34" cy="507.91" r="3.4" fill="#EE8426"/>
<circle cx="531.39" cy="509.12" r="3.4" fill="#EE8426"/>
<circle cx="534.43" cy="509.34" r="3.4" fill="#EE8426"/>
<circle cx="537.48" cy="510.54" r="3.4" fill="#EE8426"/>
<circle cx="540.53" cy="510.78" r="3.4" fill="#EE8426"/>
<circle cx="543.58" cy="511.62" r="3.4" fill="#EE8426"/>
<circle cx="546.63" cy="511.99" r="3.4" fill="#EE8426"/>
<circle cx="549.68" cy="511.5" r="3.4" fill="#EE8426"/>
<circle cx="552.73" cy="512.22" r="3.4" fill="#EE8426"/>
<circle cx="555.78" cy="512.4" r="3.4" fill="#EE8426"/>
<circle cx="558.83" cy="512" r="3.4" fill="#EE8426"/>
<circle cx="561.88" cy="512.34" r="3.4" fill="#EE8426"/>
<circle cx="564.93" cy="513.07" r="3.4" fill="#EE8426"/>
<circle cx="567.97" cy="512.81" r="3.4" fill="#EE8426"/>
<circle cx="571.02" cy="513.42" r="3.4" fill="#EE8426"/>
<circle cx="574.07" cy="513.58" r="3.4" fill="#EE8426"/>
<circle cx="577.12" cy="514.24" r="3.4" fill="#EE8426"/>
<circle cx="580.17" cy="513.96" r="3.4" fill="#EE8426"/>
<circle cx="583.22" cy="514.43" r="3.4" fill="#EE8426"/>
<circle cx="586.27" cy="514.42" r="3.4" fill="#EE8426"/>
<circle cx="589.32" cy="514.61" r="3.4" fill="#EE8426"/>
<circle cx="592.37" cy="515.17" r="3.4" fill="#EE8426"/>
<circle cx="595.42" cy="515.19" r="3.4" fill="#EE8426"/>
<circle cx="598.47" cy="515.4" r="3.4" fill="#EE8426"/>
<circle cx="601.51" cy="515.5" r="3.4" fill="#EE8426"/>
<circle cx="604.56" cy="515.67" r="3.4" fill="#EE8426"/>
<circle cx="607.61" cy="515.62" r="3.4" fill="#EE8426"/>
<circle cx="610.66" cy="515.54" r="3.4" fill="#EE8426"/>
<circle cx="613.71" cy="516.19" r="3.4" fill="#EE8426"/>
<circle cx="616.76" cy="515.83" r="3.4" fill="#EE8426"/>
<circle cx="619.81" cy="516.3" r="3.4" fill="#EE8426"/>
<circle cx="622.86" cy="516.54" r="3.4" fill="#EE8426"/>
<circle cx="625.91" cy="516.37" r="3.4" fill="#EE8426"/>
<circle cx="628.96" cy="516.91" r="3.4" fill="#EE8426"/>
<circle cx="632.01" cy="517.33" r="3.4" fill="#EE8426"/>
<circle cx="635.05" cy="517.48" r="3.4" fill="#EE8426"/>
<circle cx="638.1" cy="517.57" r="3.4" fill="#EE8426"/>
<circle cx="641.15" cy="518.34" r="3.4" fill="#EE8426"/>
<circle cx="644.2" cy="517.81" r="3.4" fill="#EE8426"/>
<circle cx="647.25" cy="518.74" r="3.4" fill="#EE8426"/>
<circle cx="650.3" cy="518.32" r="3.4" fill="#EE8426"/>
<circle cx="483.21" cy="492.38" r="2.7" fill="#3D8BD8"/>
<circle cx="484.43" cy="493.05" r="2.7" fill="#3D8BD8"/>
<circle cx="485.65" cy="493.71" r="2.7" fill="#3D8BD8"/>
<circle cx="486.87" cy="494.32" r="2.7" fill="#3D8BD8"/>
<circle cx="488.09" cy="494.94" r="2.7" fill="#3D8BD8"/>
<circle cx="489.31" cy="495.73" r="2.7" fill="#3D8BD8"/>
<circle cx="490.53" cy="496.66" r="2.7" fill="#3D8BD8"/>
<circle cx="491.75" cy="497.71" r="2.7" fill="#3D8BD8"/>
<circle cx="492.97" cy="498.91" r="2.7" fill="#3D8BD8"/>
<circle cx="494.19" cy="500.23" r="2.7" fill="#3D8BD8"/>
<circle cx="495.41" cy="501.62" r="2.7" fill="#3D8BD8"/>
<circle cx="496.63" cy="503.09" r="2.7" fill="#3D8BD8"/>
<circle cx="497.85" cy="504.65" r="2.7" fill="#3D8BD8"/>
<circle cx="499.07" cy="506.52" r="2.7" fill="#3D8BD8"/>
<circle cx="500.28" cy="510.79" r="2.7" fill="#3D8BD8"/>
<circle cx="500.28" cy="510.79" r="2.7" fill="#3D8BD8"/>
<circle cx="501.5" cy="523.86" r="2.7" fill="#3D8BD8"/>
<circle cx="502.72" cy="530.84" r="2.7" fill="#3D8BD8"/>
<circle cx="503.33" cy="533.2" r="2.7" fill="#3D8BD8"/>
<circle cx="504.55" cy="535.89" r="2.7" fill="#3D8BD8"/>
<circle cx="505.77" cy="536.65" r="2.7" fill="#3D8BD8"/>
<circle cx="507.6" cy="536.81" r="2.7" fill="#3D8BD8"/>
<circle cx="509.43" cy="536.66" r="2.7" fill="#3D8BD8"/>
</g>
<rect x="482.6" y="403.8" width="167.7" height="133.4" fill="none" stroke="#383838" stroke-width="1.15"/>
<line x1="478.1" y1="403.8" x2="482.6" y2="403.8" stroke="#383838" stroke-width="1.1"/>
<line x1="482.6" y1="537.2" x2="482.6" y2="541.7" stroke="#383838" stroke-width="1.1"/>
<text transform="translate(482.6,552.2) scale(0.95,1)" font-size="9.87" text-anchor="middle" fill="#1a1a1a" >0</text>
<line x1="513.09" y1="537.2" x2="513.09" y2="541.7" stroke="#383838" stroke-width="1.1"/>
<text transform="translate(513.09,552.2) scale(0.95,1)" font-size="9.87" text-anchor="middle" fill="#1a1a1a" >50</text>
<line x1="543.58" y1="537.2" x2="543.58" y2="541.7" stroke="#383838" stroke-width="1.1"/>
<text transform="translate(543.58,552.2) scale(0.95,1)" font-size="9.87" text-anchor="middle" fill="#1a1a1a" >100</text>
<line x1="574.07" y1="537.2" x2="574.07" y2="541.7" stroke="#383838" stroke-width="1.1"/>
<text transform="translate(574.07,552.2) scale(0.95,1)" font-size="9.87" text-anchor="middle" fill="#1a1a1a" >150</text>
<line x1="604.56" y1="537.2" x2="604.56" y2="541.7" stroke="#383838" stroke-width="1.1"/>
<text transform="translate(604.56,552.2) scale(0.95,1)" font-size="9.87" text-anchor="middle" fill="#1a1a1a" >200</text>
<line x1="635.05" y1="537.2" x2="635.05" y2="541.7" stroke="#383838" stroke-width="1.1"/>
<text transform="translate(635.05,552.2) scale(0.95,1)" font-size="9.87" text-anchor="middle" fill="#1a1a1a" >250</text>
<line x1="497.85" y1="537.2" x2="497.85" y2="539.7" stroke="#383838" stroke-width="1.1"/>
<line x1="528.34" y1="537.2" x2="528.34" y2="539.7" stroke="#383838" stroke-width="1.1"/>
<line x1="558.83" y1="537.2" x2="558.83" y2="539.7" stroke="#383838" stroke-width="1.1"/>
<line x1="589.32" y1="537.2" x2="589.32" y2="539.7" stroke="#383838" stroke-width="1.1"/>
<line x1="619.81" y1="537.2" x2="619.81" y2="539.7" stroke="#383838" stroke-width="1.1"/>
<line x1="650.3" y1="537.2" x2="650.3" y2="539.7" stroke="#383838" stroke-width="1.1"/>
<line x1="478.1" y1="537.2" x2="482.6" y2="537.2" stroke="#383838" stroke-width="1.1"/>
<text transform="translate(476.5,540.55) scale(0.95,1)" font-size="9.87" text-anchor="end" fill="#1a1a1a" >0</text>
<line x1="478.1" y1="510.52" x2="482.6" y2="510.52" stroke="#383838" stroke-width="1.1"/>
<text transform="translate(476.5,513.87) scale(0.95,1)" font-size="9.87" text-anchor="end" fill="#1a1a1a" >100</text>
<line x1="478.1" y1="483.84" x2="482.6" y2="483.84" stroke="#383838" stroke-width="1.1"/>
<text transform="translate(476.5,487.19) scale(0.95,1)" font-size="9.87" text-anchor="end" fill="#1a1a1a" >200</text>
<line x1="478.1" y1="457.16" x2="482.6" y2="457.16" stroke="#383838" stroke-width="1.1"/>
<text transform="translate(476.5,460.51) scale(0.95,1)" font-size="9.87" text-anchor="end" fill="#1a1a1a" >300</text>
<line x1="478.1" y1="430.48" x2="482.6" y2="430.48" stroke="#383838" stroke-width="1.1"/>
<text transform="translate(476.5,433.83) scale(0.95,1)" font-size="9.87" text-anchor="end" fill="#1a1a1a" >400</text>
<line x1="478.1" y1="403.8" x2="482.6" y2="403.8" stroke="#383838" stroke-width="1.1"/>
<text transform="translate(476.5,407.15) scale(0.95,1)" font-size="9.87" text-anchor="end" fill="#1a1a1a" >500</text>
<line x1="480.1" y1="523.86" x2="482.6" y2="523.86" stroke="#383838" stroke-width="1.1"/>
<line x1="480.1" y1="497.18" x2="482.6" y2="497.18" stroke="#383838" stroke-width="1.1"/>
<line x1="480.1" y1="470.5" x2="482.6" y2="470.5" stroke="#383838" stroke-width="1.1"/>
<line x1="480.1" y1="443.82" x2="482.6" y2="443.82" stroke="#383838" stroke-width="1.1"/>
<line x1="480.1" y1="417.14" x2="482.6" y2="417.14" stroke="#383838" stroke-width="1.1"/>
<line x1="650.3" y1="537.2" x2="654.8" y2="537.2" stroke="#383838" stroke-width="1.1"/>
<text transform="translate(655.8,540.55) scale(0.95,1)" font-size="9.87" text-anchor="start" fill="#1a1a1a" >60</text>
<line x1="650.3" y1="507.56" x2="654.8" y2="507.56" stroke="#383838" stroke-width="1.1"/>
<text transform="translate(655.8,510.91) scale(0.95,1)" font-size="9.87" text-anchor="start" fill="#1a1a1a" >70</text>
<line x1="650.3" y1="477.91" x2="654.8" y2="477.91" stroke="#383838" stroke-width="1.1"/>
<text transform="translate(655.8,481.26) scale(0.95,1)" font-size="9.87" text-anchor="start" fill="#1a1a1a" >80</text>
<line x1="650.3" y1="448.27" x2="654.8" y2="448.27" stroke="#383838" stroke-width="1.1"/>
<text transform="translate(655.8,451.62) scale(0.95,1)" font-size="9.87" text-anchor="start" fill="#1a1a1a" >90</text>
<line x1="650.3" y1="418.62" x2="654.8" y2="418.62" stroke="#383838" stroke-width="1.1"/>
<text transform="translate(655.8,421.97) scale(0.95,1)" font-size="9.87" text-anchor="start" fill="#1a1a1a" >100</text>
<line x1="650.3" y1="522.38" x2="652.8" y2="522.38" stroke="#383838" stroke-width="1.1"/>
<line x1="650.3" y1="492.73" x2="652.8" y2="492.73" stroke="#383838" stroke-width="1.1"/>
<line x1="650.3" y1="463.09" x2="652.8" y2="463.09" stroke="#383838" stroke-width="1.1"/>
<line x1="650.3" y1="433.44" x2="652.8" y2="433.44" stroke="#383838" stroke-width="1.1"/>
<line x1="650.3" y1="403.8" x2="652.8" y2="403.8" stroke="#383838" stroke-width="1.1"/>
<text transform="translate(456.4,469.8) rotate(-90) scale(0.95,1)" font-size="9.97" text-anchor="middle" fill="#1a1a1a">Gravimetric capacity (mAh g<tspan font-size="6.5" dy="-3.2">-1</tspan><tspan dy="3.2">)</tspan></text>
<text transform="translate(682.2,470.5) rotate(-90) scale(0.95,1)" font-size="9.97" text-anchor="middle" fill="#1a1a1a">Coulombic efficiency (%)</text>
<text transform="translate(566.3,564) scale(0.95,1)" font-size="9.97" text-anchor="middle" fill="#1a1a1a" >Cycle number</text>
<circle cx="588.1" cy="444" r="3.2" fill="#EE8426"/>
<circle cx="588.1" cy="458.4" r="3.2" fill="#3D8BD8"/>
<text transform="translate(601,447.4) scale(0.95,1)" font-size="9.87" text-anchor="start" fill="#1a1a1a" >ZnSO<tspan font-size="6.5" dy="2">4</tspan><tspan dy="-2">/FU</tspan></text>
<text transform="translate(601,461.8) scale(0.95,1)" font-size="9.87" text-anchor="start" fill="#1a1a1a" >ZnSO<tspan font-size="6.5" dy="2">4</tspan><tspan dy="-2"></tspan></text>
<text transform="translate(549.6,453.7) scale(0.95,1)" font-size="9.87" text-anchor="start" fill="#1a1a1a" >2 A g<tspan font-size="6.5" dy="-3.2">-1</tspan><tspan dy="3.2"></tspan></text>
<text transform="translate(502.8,485) scale(0.95,1)" font-size="8.93" text-anchor="start" fill="#1a1a1a" >Initially anodeless Cu||zincated MnVO</text>
<text transform="translate(537.9,500.8) scale(0.95,1)" font-size="8.93" text-anchor="start" fill="#1a1a1a" >Mass loading: 15 mg cm<tspan font-size="6" dy="-3">-2</tspan></text>
<polyline points="496.9,459.5 505.1,459.5 505.1,464.6" fill="none" stroke="#383838" stroke-width="1.05"/>
<polygon points="487.6,459.5 497.9,457.7 497.9,461.3" fill="#111"/>
<polyline points="631.8,424.5 631.8,430.6 638.1,430.6" fill="none" stroke="#383838" stroke-width="1.05"/>
<polygon points="647.4,430.6 637.1,428.8 637.1,432.4" fill="#111"/>
<text transform="translate(444.9,395) scale(1,1)" font-size="18.2" text-anchor="start" fill="#1a1a1a" style="stroke-width:0.35px">g</text>
</svg></body></html>
